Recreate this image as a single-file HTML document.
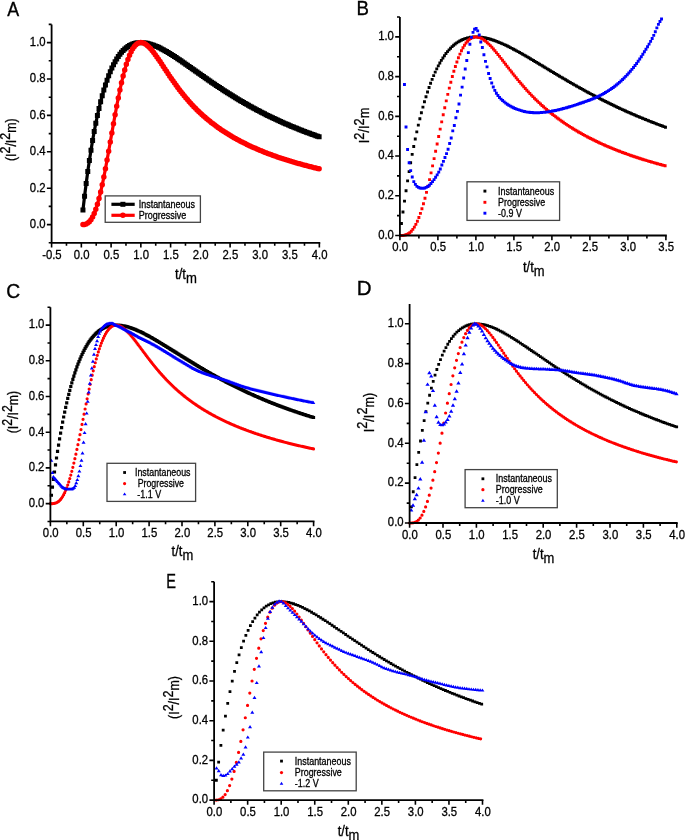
<!DOCTYPE html><html><head><meta charset="utf-8"><title>Chronoamperometric transients</title><style>html,body{margin:0;padding:0;background:#fff}body{width:685px;height:840px;overflow:hidden}svg{display:block;will-change:transform}text{fill:#000;stroke:#000;stroke-width:0.3px}</style></head><body>
<svg width="685" height="840" viewBox="0 0 685 840" font-family='"Liberation Sans", sans-serif'>
<rect width="685" height="840" fill="#fff"/>
<text transform="translate(7.2 16.4) scale(0.87 1)" font-size="20.5" style="stroke-width:0.35px">A</text>
<path d="M82.96 209.95L84.56 196.26L86.17 183.49L87.78 171.58L89.38 160.48L90.99 150.14L92.6 140.52L94.2 131.58L95.81 123.28L97.41 115.58L99.02 108.45L100.63 101.84L102.23 95.74L103.84 90.11L105.45 84.93L107.05 80.16L108.66 75.78L110.27 71.77L111.87 68.11L113.48 64.78L115.09 61.75L116.69 59.01L118.3 56.54L119.91 54.33L121.51 52.35L123.12 50.59L124.73 49.05L126.33 47.7L127.94 46.54L129.54 45.55L131.15 44.72L132.76 44.05L134.36 43.51L135.97 43.11L137.58 42.83L139.18 42.67L140.79 42.61L142.4 42.66L144 42.8L145.61 43.02L147.22 43.33L148.82 43.71L150.43 44.17L152.04 44.69L153.64 45.26L155.25 45.9L156.86 46.59L158.46 47.32L160.07 48.1L161.67 48.91L163.28 49.77L164.89 50.66L166.49 51.58L168.1 52.53L169.71 53.5L171.31 54.49L172.92 55.51L174.53 56.55L176.13 57.6L177.74 58.67L179.35 59.75L180.95 60.84L182.56 61.94L184.17 63.05L185.77 64.17L187.38 65.29L188.99 66.41L190.59 67.54L192.2 68.68L193.81 69.81L195.41 70.94L197.02 72.08L198.62 73.21L200.23 74.34L201.84 75.47L203.44 76.59L205.05 77.71L206.66 78.83L208.26 79.94L209.87 81.05L211.48 82.15L213.08 83.24L214.69 84.33L216.3 85.41L217.9 86.48L219.51 87.55L221.12 88.6L222.72 89.65L224.33 90.7L225.94 91.73L227.54 92.76L229.15 93.77L230.75 94.78L232.36 95.78L233.97 96.77L235.57 97.75L237.18 98.72L238.79 99.69L240.39 100.64L242 101.58L243.61 102.52L245.21 103.44L246.82 104.36L248.43 105.27L250.03 106.17L251.64 107.05L253.25 107.93L254.85 108.8L256.46 109.66L258.06 110.52L259.67 111.36L261.28 112.19L262.88 113.02L264.49 113.83L266.1 114.64L267.7 115.44L269.31 116.23L270.92 117.01L272.52 117.78L274.13 118.54L275.74 119.3L277.34 120.04L278.95 120.78L280.56 121.51L282.16 122.23L283.77 122.95L285.38 123.65L286.98 124.35L288.59 125.04L290.2 125.72L291.8 126.39L293.41 127.06L295.01 127.72L296.62 128.37L298.23 129.02L299.83 129.65L301.44 130.28L303.05 130.91L304.65 131.52L306.26 132.13L307.87 132.73L309.47 133.33L311.08 133.92L312.69 134.5L314.29 135.08L315.9 135.65L317.51 136.21L319.11 136.77" stroke="#000" stroke-width="3.2" fill="none" stroke-linejoin="round"/>
<path d="M80.46 207.45h5v5h-5zM82.06 193.76h5v5h-5zM83.67 180.99h5v5h-5zM85.28 169.08h5v5h-5zM86.88 157.98h5v5h-5zM88.49 147.64h5v5h-5zM90.1 138.02h5v5h-5zM91.7 129.08h5v5h-5zM93.31 120.78h5v5h-5zM94.91 113.08h5v5h-5zM96.52 105.95h5v5h-5zM98.13 99.34h5v5h-5zM99.73 93.24h5v5h-5zM101.34 87.61h5v5h-5zM102.95 82.43h5v5h-5zM104.55 77.66h5v5h-5zM106.16 73.28h5v5h-5zM107.77 69.27h5v5h-5zM109.37 65.61h5v5h-5zM110.98 62.28h5v5h-5zM112.59 59.25h5v5h-5zM114.19 56.51h5v5h-5zM115.8 54.04h5v5h-5zM117.41 51.83h5v5h-5zM119.01 49.85h5v5h-5zM120.62 48.09h5v5h-5zM122.23 46.55h5v5h-5zM123.83 45.2h5v5h-5zM125.44 44.04h5v5h-5zM127.04 43.05h5v5h-5zM128.65 42.22h5v5h-5zM130.26 41.55h5v5h-5zM131.86 41.01h5v5h-5zM133.47 40.61h5v5h-5zM135.08 40.33h5v5h-5zM136.68 40.17h5v5h-5zM138.29 40.11h5v5h-5zM139.9 40.16h5v5h-5zM141.5 40.3h5v5h-5zM143.11 40.52h5v5h-5zM144.72 40.83h5v5h-5zM146.32 41.21h5v5h-5zM147.93 41.67h5v5h-5zM149.54 42.19h5v5h-5zM151.14 42.76h5v5h-5zM152.75 43.4h5v5h-5zM154.36 44.09h5v5h-5zM155.96 44.82h5v5h-5zM157.57 45.6h5v5h-5zM159.17 46.41h5v5h-5zM160.78 47.27h5v5h-5zM162.39 48.16h5v5h-5zM163.99 49.08h5v5h-5zM165.6 50.03h5v5h-5zM167.21 51h5v5h-5zM168.81 51.99h5v5h-5zM170.42 53.01h5v5h-5zM172.03 54.05h5v5h-5zM173.63 55.1h5v5h-5zM175.24 56.17h5v5h-5zM176.85 57.25h5v5h-5zM178.45 58.34h5v5h-5zM180.06 59.44h5v5h-5zM181.67 60.55h5v5h-5zM183.27 61.67h5v5h-5zM184.88 62.79h5v5h-5zM186.49 63.91h5v5h-5zM188.09 65.04h5v5h-5zM189.7 66.18h5v5h-5zM191.31 67.31h5v5h-5zM192.91 68.44h5v5h-5zM194.52 69.58h5v5h-5zM196.12 70.71h5v5h-5zM197.73 71.84h5v5h-5zM199.34 72.97h5v5h-5zM200.94 74.09h5v5h-5zM202.55 75.21h5v5h-5zM204.16 76.33h5v5h-5zM205.76 77.44h5v5h-5zM207.37 78.55h5v5h-5zM208.98 79.65h5v5h-5zM210.58 80.74h5v5h-5zM212.19 81.83h5v5h-5zM213.8 82.91h5v5h-5zM215.4 83.98h5v5h-5zM217.01 85.05h5v5h-5zM218.62 86.1h5v5h-5zM220.22 87.15h5v5h-5zM221.83 88.2h5v5h-5zM223.44 89.23h5v5h-5zM225.04 90.26h5v5h-5zM226.65 91.27h5v5h-5zM228.25 92.28h5v5h-5zM229.86 93.28h5v5h-5zM231.47 94.27h5v5h-5zM233.07 95.25h5v5h-5zM234.68 96.22h5v5h-5zM236.29 97.19h5v5h-5zM237.89 98.14h5v5h-5zM239.5 99.08h5v5h-5zM241.11 100.02h5v5h-5zM242.71 100.94h5v5h-5zM244.32 101.86h5v5h-5zM245.93 102.77h5v5h-5zM247.53 103.67h5v5h-5zM249.14 104.55h5v5h-5zM250.75 105.43h5v5h-5zM252.35 106.3h5v5h-5zM253.96 107.16h5v5h-5zM255.56 108.02h5v5h-5zM257.17 108.86h5v5h-5zM258.78 109.69h5v5h-5zM260.38 110.52h5v5h-5zM261.99 111.33h5v5h-5zM263.6 112.14h5v5h-5zM265.2 112.94h5v5h-5zM266.81 113.73h5v5h-5zM268.42 114.51h5v5h-5zM270.02 115.28h5v5h-5zM271.63 116.04h5v5h-5zM273.24 116.8h5v5h-5zM274.84 117.54h5v5h-5zM276.45 118.28h5v5h-5zM278.06 119.01h5v5h-5zM279.66 119.73h5v5h-5zM281.27 120.45h5v5h-5zM282.88 121.15h5v5h-5zM284.48 121.85h5v5h-5zM286.09 122.54h5v5h-5zM287.7 123.22h5v5h-5zM289.3 123.89h5v5h-5zM290.91 124.56h5v5h-5zM292.51 125.22h5v5h-5zM294.12 125.87h5v5h-5zM295.73 126.52h5v5h-5zM297.33 127.15h5v5h-5zM298.94 127.78h5v5h-5zM300.55 128.41h5v5h-5zM302.15 129.02h5v5h-5zM303.76 129.63h5v5h-5zM305.37 130.23h5v5h-5zM306.97 130.83h5v5h-5zM308.58 131.42h5v5h-5zM310.19 132h5v5h-5zM311.79 132.58h5v5h-5zM313.4 133.15h5v5h-5zM315.01 133.71h5v5h-5zM316.61 134.27h5v5h-5z" fill="#000"/>
<path d="M82.96 224.58L84.56 224.41L86.17 223.96L87.78 223.11L89.38 221.73L90.99 219.73L92.6 217.03L94.2 213.58L95.81 209.35L97.41 204.34L99.02 198.55L100.63 192.03L102.23 184.84L103.84 177.06L105.45 168.78L107.05 160.11L108.66 151.16L110.27 142.04L111.87 132.88L113.48 123.78L115.09 114.86L116.69 106.21L118.3 97.93L119.91 90.1L121.51 82.78L123.12 76.03L124.73 69.88L126.33 64.37L127.94 59.51L129.54 55.3L131.15 51.74L132.76 48.81L134.36 46.49L135.97 44.74L137.58 43.54L139.18 42.84L140.79 42.6L142.4 42.79L144 43.36L145.61 44.27L147.22 45.47L148.82 46.94L150.43 48.62L152.04 50.49L153.64 52.52L155.25 54.67L156.86 56.92L158.46 59.24L160.07 61.62L161.67 64.04L163.28 66.47L164.89 68.91L166.49 71.34L168.1 73.76L169.71 76.15L171.31 78.51L172.92 80.83L174.53 83.11L176.13 85.34L177.74 87.53L179.35 89.67L180.95 91.75L182.56 93.79L184.17 95.78L185.77 97.71L187.38 99.6L188.99 101.43L190.59 103.22L192.2 104.96L193.81 106.65L195.41 108.3L197.02 109.91L198.62 111.47L200.23 113L201.84 114.48L203.44 115.93L205.05 117.33L206.66 118.71L208.26 120.05L209.87 121.35L211.48 122.63L213.08 123.87L214.69 125.08L216.3 126.27L217.9 127.42L219.51 128.55L221.12 129.66L222.72 130.74L224.33 131.79L225.94 132.82L227.54 133.83L229.15 134.82L230.75 135.78L232.36 136.73L233.97 137.65L235.57 138.56L237.18 139.44L238.79 140.31L240.39 141.16L242 142L243.61 142.82L245.21 143.62L246.82 144.4L248.43 145.18L250.03 145.93L251.64 146.67L253.25 147.4L254.85 148.12L256.46 148.82L258.06 149.51L259.67 150.18L261.28 150.85L262.88 151.5L264.49 152.14L266.1 152.77L267.7 153.39L269.31 154L270.92 154.6L272.52 155.19L274.13 155.77L275.74 156.33L277.34 156.89L278.95 157.44L280.56 157.99L282.16 158.52L283.77 159.04L285.38 159.56L286.98 160.07L288.59 160.57L290.2 161.06L291.8 161.55L293.41 162.02L295.01 162.49L296.62 162.96L298.23 163.41L299.83 163.86L301.44 164.31L303.05 164.74L304.65 165.17L306.26 165.6L307.87 166.02L309.47 166.43L311.08 166.84L312.69 167.24L314.29 167.63L315.9 168.02L317.51 168.41L319.11 168.79" stroke="#f00" stroke-width="3.2" fill="none" stroke-linejoin="round"/>
<path d="M80.21 224.58a2.75 2.75 0 1 0 5.5 0a2.75 2.75 0 1 0 -5.5 0zM81.81 224.41a2.75 2.75 0 1 0 5.5 0a2.75 2.75 0 1 0 -5.5 0zM83.42 223.96a2.75 2.75 0 1 0 5.5 0a2.75 2.75 0 1 0 -5.5 0zM85.03 223.11a2.75 2.75 0 1 0 5.5 0a2.75 2.75 0 1 0 -5.5 0zM86.63 221.73a2.75 2.75 0 1 0 5.5 0a2.75 2.75 0 1 0 -5.5 0zM88.24 219.73a2.75 2.75 0 1 0 5.5 0a2.75 2.75 0 1 0 -5.5 0zM89.85 217.03a2.75 2.75 0 1 0 5.5 0a2.75 2.75 0 1 0 -5.5 0zM91.45 213.58a2.75 2.75 0 1 0 5.5 0a2.75 2.75 0 1 0 -5.5 0zM93.06 209.35a2.75 2.75 0 1 0 5.5 0a2.75 2.75 0 1 0 -5.5 0zM94.66 204.34a2.75 2.75 0 1 0 5.5 0a2.75 2.75 0 1 0 -5.5 0zM96.27 198.55a2.75 2.75 0 1 0 5.5 0a2.75 2.75 0 1 0 -5.5 0zM97.88 192.03a2.75 2.75 0 1 0 5.5 0a2.75 2.75 0 1 0 -5.5 0zM99.48 184.84a2.75 2.75 0 1 0 5.5 0a2.75 2.75 0 1 0 -5.5 0zM101.09 177.06a2.75 2.75 0 1 0 5.5 0a2.75 2.75 0 1 0 -5.5 0zM102.7 168.78a2.75 2.75 0 1 0 5.5 0a2.75 2.75 0 1 0 -5.5 0zM104.3 160.11a2.75 2.75 0 1 0 5.5 0a2.75 2.75 0 1 0 -5.5 0zM105.91 151.16a2.75 2.75 0 1 0 5.5 0a2.75 2.75 0 1 0 -5.5 0zM107.52 142.04a2.75 2.75 0 1 0 5.5 0a2.75 2.75 0 1 0 -5.5 0zM109.12 132.88a2.75 2.75 0 1 0 5.5 0a2.75 2.75 0 1 0 -5.5 0zM110.73 123.78a2.75 2.75 0 1 0 5.5 0a2.75 2.75 0 1 0 -5.5 0zM112.34 114.86a2.75 2.75 0 1 0 5.5 0a2.75 2.75 0 1 0 -5.5 0zM113.94 106.21a2.75 2.75 0 1 0 5.5 0a2.75 2.75 0 1 0 -5.5 0zM115.55 97.93a2.75 2.75 0 1 0 5.5 0a2.75 2.75 0 1 0 -5.5 0zM117.16 90.1a2.75 2.75 0 1 0 5.5 0a2.75 2.75 0 1 0 -5.5 0zM118.76 82.78a2.75 2.75 0 1 0 5.5 0a2.75 2.75 0 1 0 -5.5 0zM120.37 76.03a2.75 2.75 0 1 0 5.5 0a2.75 2.75 0 1 0 -5.5 0zM121.98 69.88a2.75 2.75 0 1 0 5.5 0a2.75 2.75 0 1 0 -5.5 0zM123.58 64.37a2.75 2.75 0 1 0 5.5 0a2.75 2.75 0 1 0 -5.5 0zM125.19 59.51a2.75 2.75 0 1 0 5.5 0a2.75 2.75 0 1 0 -5.5 0zM126.79 55.3a2.75 2.75 0 1 0 5.5 0a2.75 2.75 0 1 0 -5.5 0zM128.4 51.74a2.75 2.75 0 1 0 5.5 0a2.75 2.75 0 1 0 -5.5 0zM130.01 48.81a2.75 2.75 0 1 0 5.5 0a2.75 2.75 0 1 0 -5.5 0zM131.61 46.49a2.75 2.75 0 1 0 5.5 0a2.75 2.75 0 1 0 -5.5 0zM133.22 44.74a2.75 2.75 0 1 0 5.5 0a2.75 2.75 0 1 0 -5.5 0zM134.83 43.54a2.75 2.75 0 1 0 5.5 0a2.75 2.75 0 1 0 -5.5 0zM136.43 42.84a2.75 2.75 0 1 0 5.5 0a2.75 2.75 0 1 0 -5.5 0zM138.04 42.6a2.75 2.75 0 1 0 5.5 0a2.75 2.75 0 1 0 -5.5 0zM139.65 42.79a2.75 2.75 0 1 0 5.5 0a2.75 2.75 0 1 0 -5.5 0zM141.25 43.36a2.75 2.75 0 1 0 5.5 0a2.75 2.75 0 1 0 -5.5 0zM142.86 44.27a2.75 2.75 0 1 0 5.5 0a2.75 2.75 0 1 0 -5.5 0zM144.47 45.47a2.75 2.75 0 1 0 5.5 0a2.75 2.75 0 1 0 -5.5 0zM146.07 46.94a2.75 2.75 0 1 0 5.5 0a2.75 2.75 0 1 0 -5.5 0zM147.68 48.62a2.75 2.75 0 1 0 5.5 0a2.75 2.75 0 1 0 -5.5 0zM149.29 50.49a2.75 2.75 0 1 0 5.5 0a2.75 2.75 0 1 0 -5.5 0zM150.89 52.52a2.75 2.75 0 1 0 5.5 0a2.75 2.75 0 1 0 -5.5 0zM152.5 54.67a2.75 2.75 0 1 0 5.5 0a2.75 2.75 0 1 0 -5.5 0zM154.11 56.92a2.75 2.75 0 1 0 5.5 0a2.75 2.75 0 1 0 -5.5 0zM155.71 59.24a2.75 2.75 0 1 0 5.5 0a2.75 2.75 0 1 0 -5.5 0zM157.32 61.62a2.75 2.75 0 1 0 5.5 0a2.75 2.75 0 1 0 -5.5 0zM158.92 64.04a2.75 2.75 0 1 0 5.5 0a2.75 2.75 0 1 0 -5.5 0zM160.53 66.47a2.75 2.75 0 1 0 5.5 0a2.75 2.75 0 1 0 -5.5 0zM162.14 68.91a2.75 2.75 0 1 0 5.5 0a2.75 2.75 0 1 0 -5.5 0zM163.74 71.34a2.75 2.75 0 1 0 5.5 0a2.75 2.75 0 1 0 -5.5 0zM165.35 73.76a2.75 2.75 0 1 0 5.5 0a2.75 2.75 0 1 0 -5.5 0zM166.96 76.15a2.75 2.75 0 1 0 5.5 0a2.75 2.75 0 1 0 -5.5 0zM168.56 78.51a2.75 2.75 0 1 0 5.5 0a2.75 2.75 0 1 0 -5.5 0zM170.17 80.83a2.75 2.75 0 1 0 5.5 0a2.75 2.75 0 1 0 -5.5 0zM171.78 83.11a2.75 2.75 0 1 0 5.5 0a2.75 2.75 0 1 0 -5.5 0zM173.38 85.34a2.75 2.75 0 1 0 5.5 0a2.75 2.75 0 1 0 -5.5 0zM174.99 87.53a2.75 2.75 0 1 0 5.5 0a2.75 2.75 0 1 0 -5.5 0zM176.6 89.67a2.75 2.75 0 1 0 5.5 0a2.75 2.75 0 1 0 -5.5 0zM178.2 91.75a2.75 2.75 0 1 0 5.5 0a2.75 2.75 0 1 0 -5.5 0zM179.81 93.79a2.75 2.75 0 1 0 5.5 0a2.75 2.75 0 1 0 -5.5 0zM181.42 95.78a2.75 2.75 0 1 0 5.5 0a2.75 2.75 0 1 0 -5.5 0zM183.02 97.71a2.75 2.75 0 1 0 5.5 0a2.75 2.75 0 1 0 -5.5 0zM184.63 99.6a2.75 2.75 0 1 0 5.5 0a2.75 2.75 0 1 0 -5.5 0zM186.24 101.43a2.75 2.75 0 1 0 5.5 0a2.75 2.75 0 1 0 -5.5 0zM187.84 103.22a2.75 2.75 0 1 0 5.5 0a2.75 2.75 0 1 0 -5.5 0zM189.45 104.96a2.75 2.75 0 1 0 5.5 0a2.75 2.75 0 1 0 -5.5 0zM191.06 106.65a2.75 2.75 0 1 0 5.5 0a2.75 2.75 0 1 0 -5.5 0zM192.66 108.3a2.75 2.75 0 1 0 5.5 0a2.75 2.75 0 1 0 -5.5 0zM194.27 109.91a2.75 2.75 0 1 0 5.5 0a2.75 2.75 0 1 0 -5.5 0zM195.87 111.47a2.75 2.75 0 1 0 5.5 0a2.75 2.75 0 1 0 -5.5 0zM197.48 113a2.75 2.75 0 1 0 5.5 0a2.75 2.75 0 1 0 -5.5 0zM199.09 114.48a2.75 2.75 0 1 0 5.5 0a2.75 2.75 0 1 0 -5.5 0zM200.69 115.93a2.75 2.75 0 1 0 5.5 0a2.75 2.75 0 1 0 -5.5 0zM202.3 117.33a2.75 2.75 0 1 0 5.5 0a2.75 2.75 0 1 0 -5.5 0zM203.91 118.71a2.75 2.75 0 1 0 5.5 0a2.75 2.75 0 1 0 -5.5 0zM205.51 120.05a2.75 2.75 0 1 0 5.5 0a2.75 2.75 0 1 0 -5.5 0zM207.12 121.35a2.75 2.75 0 1 0 5.5 0a2.75 2.75 0 1 0 -5.5 0zM208.73 122.63a2.75 2.75 0 1 0 5.5 0a2.75 2.75 0 1 0 -5.5 0zM210.33 123.87a2.75 2.75 0 1 0 5.5 0a2.75 2.75 0 1 0 -5.5 0zM211.94 125.08a2.75 2.75 0 1 0 5.5 0a2.75 2.75 0 1 0 -5.5 0zM213.55 126.27a2.75 2.75 0 1 0 5.5 0a2.75 2.75 0 1 0 -5.5 0zM215.15 127.42a2.75 2.75 0 1 0 5.5 0a2.75 2.75 0 1 0 -5.5 0zM216.76 128.55a2.75 2.75 0 1 0 5.5 0a2.75 2.75 0 1 0 -5.5 0zM218.37 129.66a2.75 2.75 0 1 0 5.5 0a2.75 2.75 0 1 0 -5.5 0zM219.97 130.74a2.75 2.75 0 1 0 5.5 0a2.75 2.75 0 1 0 -5.5 0zM221.58 131.79a2.75 2.75 0 1 0 5.5 0a2.75 2.75 0 1 0 -5.5 0zM223.19 132.82a2.75 2.75 0 1 0 5.5 0a2.75 2.75 0 1 0 -5.5 0zM224.79 133.83a2.75 2.75 0 1 0 5.5 0a2.75 2.75 0 1 0 -5.5 0zM226.4 134.82a2.75 2.75 0 1 0 5.5 0a2.75 2.75 0 1 0 -5.5 0zM228 135.78a2.75 2.75 0 1 0 5.5 0a2.75 2.75 0 1 0 -5.5 0zM229.61 136.73a2.75 2.75 0 1 0 5.5 0a2.75 2.75 0 1 0 -5.5 0zM231.22 137.65a2.75 2.75 0 1 0 5.5 0a2.75 2.75 0 1 0 -5.5 0zM232.82 138.56a2.75 2.75 0 1 0 5.5 0a2.75 2.75 0 1 0 -5.5 0zM234.43 139.44a2.75 2.75 0 1 0 5.5 0a2.75 2.75 0 1 0 -5.5 0zM236.04 140.31a2.75 2.75 0 1 0 5.5 0a2.75 2.75 0 1 0 -5.5 0zM237.64 141.16a2.75 2.75 0 1 0 5.5 0a2.75 2.75 0 1 0 -5.5 0zM239.25 142a2.75 2.75 0 1 0 5.5 0a2.75 2.75 0 1 0 -5.5 0zM240.86 142.82a2.75 2.75 0 1 0 5.5 0a2.75 2.75 0 1 0 -5.5 0zM242.46 143.62a2.75 2.75 0 1 0 5.5 0a2.75 2.75 0 1 0 -5.5 0zM244.07 144.4a2.75 2.75 0 1 0 5.5 0a2.75 2.75 0 1 0 -5.5 0zM245.68 145.18a2.75 2.75 0 1 0 5.5 0a2.75 2.75 0 1 0 -5.5 0zM247.28 145.93a2.75 2.75 0 1 0 5.5 0a2.75 2.75 0 1 0 -5.5 0zM248.89 146.67a2.75 2.75 0 1 0 5.5 0a2.75 2.75 0 1 0 -5.5 0zM250.5 147.4a2.75 2.75 0 1 0 5.5 0a2.75 2.75 0 1 0 -5.5 0zM252.1 148.12a2.75 2.75 0 1 0 5.5 0a2.75 2.75 0 1 0 -5.5 0zM253.71 148.82a2.75 2.75 0 1 0 5.5 0a2.75 2.75 0 1 0 -5.5 0zM255.31 149.51a2.75 2.75 0 1 0 5.5 0a2.75 2.75 0 1 0 -5.5 0zM256.92 150.18a2.75 2.75 0 1 0 5.5 0a2.75 2.75 0 1 0 -5.5 0zM258.53 150.85a2.75 2.75 0 1 0 5.5 0a2.75 2.75 0 1 0 -5.5 0zM260.13 151.5a2.75 2.75 0 1 0 5.5 0a2.75 2.75 0 1 0 -5.5 0zM261.74 152.14a2.75 2.75 0 1 0 5.5 0a2.75 2.75 0 1 0 -5.5 0zM263.35 152.77a2.75 2.75 0 1 0 5.5 0a2.75 2.75 0 1 0 -5.5 0zM264.95 153.39a2.75 2.75 0 1 0 5.5 0a2.75 2.75 0 1 0 -5.5 0zM266.56 154a2.75 2.75 0 1 0 5.5 0a2.75 2.75 0 1 0 -5.5 0zM268.17 154.6a2.75 2.75 0 1 0 5.5 0a2.75 2.75 0 1 0 -5.5 0zM269.77 155.19a2.75 2.75 0 1 0 5.5 0a2.75 2.75 0 1 0 -5.5 0zM271.38 155.77a2.75 2.75 0 1 0 5.5 0a2.75 2.75 0 1 0 -5.5 0zM272.99 156.33a2.75 2.75 0 1 0 5.5 0a2.75 2.75 0 1 0 -5.5 0zM274.59 156.89a2.75 2.75 0 1 0 5.5 0a2.75 2.75 0 1 0 -5.5 0zM276.2 157.44a2.75 2.75 0 1 0 5.5 0a2.75 2.75 0 1 0 -5.5 0zM277.81 157.99a2.75 2.75 0 1 0 5.5 0a2.75 2.75 0 1 0 -5.5 0zM279.41 158.52a2.75 2.75 0 1 0 5.5 0a2.75 2.75 0 1 0 -5.5 0zM281.02 159.04a2.75 2.75 0 1 0 5.5 0a2.75 2.75 0 1 0 -5.5 0zM282.63 159.56a2.75 2.75 0 1 0 5.5 0a2.75 2.75 0 1 0 -5.5 0zM284.23 160.07a2.75 2.75 0 1 0 5.5 0a2.75 2.75 0 1 0 -5.5 0zM285.84 160.57a2.75 2.75 0 1 0 5.5 0a2.75 2.75 0 1 0 -5.5 0zM287.45 161.06a2.75 2.75 0 1 0 5.5 0a2.75 2.75 0 1 0 -5.5 0zM289.05 161.55a2.75 2.75 0 1 0 5.5 0a2.75 2.75 0 1 0 -5.5 0zM290.66 162.02a2.75 2.75 0 1 0 5.5 0a2.75 2.75 0 1 0 -5.5 0zM292.26 162.49a2.75 2.75 0 1 0 5.5 0a2.75 2.75 0 1 0 -5.5 0zM293.87 162.96a2.75 2.75 0 1 0 5.5 0a2.75 2.75 0 1 0 -5.5 0zM295.48 163.41a2.75 2.75 0 1 0 5.5 0a2.75 2.75 0 1 0 -5.5 0zM297.08 163.86a2.75 2.75 0 1 0 5.5 0a2.75 2.75 0 1 0 -5.5 0zM298.69 164.31a2.75 2.75 0 1 0 5.5 0a2.75 2.75 0 1 0 -5.5 0zM300.3 164.74a2.75 2.75 0 1 0 5.5 0a2.75 2.75 0 1 0 -5.5 0zM301.9 165.17a2.75 2.75 0 1 0 5.5 0a2.75 2.75 0 1 0 -5.5 0zM303.51 165.6a2.75 2.75 0 1 0 5.5 0a2.75 2.75 0 1 0 -5.5 0zM305.12 166.02a2.75 2.75 0 1 0 5.5 0a2.75 2.75 0 1 0 -5.5 0zM306.72 166.43a2.75 2.75 0 1 0 5.5 0a2.75 2.75 0 1 0 -5.5 0zM308.33 166.84a2.75 2.75 0 1 0 5.5 0a2.75 2.75 0 1 0 -5.5 0zM309.94 167.24a2.75 2.75 0 1 0 5.5 0a2.75 2.75 0 1 0 -5.5 0zM311.54 167.63a2.75 2.75 0 1 0 5.5 0a2.75 2.75 0 1 0 -5.5 0zM313.15 168.02a2.75 2.75 0 1 0 5.5 0a2.75 2.75 0 1 0 -5.5 0zM314.76 168.41a2.75 2.75 0 1 0 5.5 0a2.75 2.75 0 1 0 -5.5 0zM316.36 168.79a2.75 2.75 0 1 0 5.5 0a2.75 2.75 0 1 0 -5.5 0z" fill="#f00"/>
<path d="M51.6 243.7V24.4M50.7 242.8H320.25" stroke="#000" stroke-width="1.8" fill="none"/>
<path d="M51.6 242.8H48.7M51.6 224.6H46.9M51.6 206.4H48.7M51.6 188.2H46.9M51.6 170H48.7M51.6 151.8H46.9M51.6 133.6H48.7M51.6 115.4H46.9M51.6 97.2H48.7M51.6 79H46.9M51.6 60.8H48.7M51.6 42.6H46.9M51.6 24.4H48.7M51.6 242.8V247.5M66.47 242.8V245.7M81.35 242.8V247.5M96.22 242.8V245.7M111.1 242.8V247.5M125.97 242.8V245.7M140.85 242.8V247.5M155.72 242.8V245.7M170.6 242.8V247.5M185.47 242.8V245.7M200.35 242.8V247.5M215.22 242.8V245.7M230.1 242.8V247.5M244.97 242.8V245.7M259.85 242.8V247.5M274.73 242.8V245.7M289.6 242.8V247.5M304.48 242.8V245.7M319.35 242.8V247.5" stroke="#000" stroke-width="1.6" fill="none"/>
<g font-size="12.2" fill="#000">
<text transform="translate(45.6 227.9) scale(0.93 1)" text-anchor="end">0.0</text>
<text transform="translate(45.6 191.5) scale(0.93 1)" text-anchor="end">0.2</text>
<text transform="translate(45.6 155.1) scale(0.93 1)" text-anchor="end">0.4</text>
<text transform="translate(45.6 118.7) scale(0.93 1)" text-anchor="end">0.6</text>
<text transform="translate(45.6 82.3) scale(0.93 1)" text-anchor="end">0.8</text>
<text transform="translate(45.6 45.9) scale(0.93 1)" text-anchor="end">1.0</text>
<text transform="translate(51.9 258.5) scale(0.93 1)" text-anchor="middle">-0.5</text>
<text transform="translate(81.65 258.5) scale(0.93 1)" text-anchor="middle">0.0</text>
<text transform="translate(111.4 258.5) scale(0.93 1)" text-anchor="middle">0.5</text>
<text transform="translate(141.15 258.5) scale(0.93 1)" text-anchor="middle">1.0</text>
<text transform="translate(170.9 258.5) scale(0.93 1)" text-anchor="middle">1.5</text>
<text transform="translate(200.65 258.5) scale(0.93 1)" text-anchor="middle">2.0</text>
<text transform="translate(230.4 258.5) scale(0.93 1)" text-anchor="middle">2.5</text>
<text transform="translate(260.15 258.5) scale(0.93 1)" text-anchor="middle">3.0</text>
<text transform="translate(289.9 258.5) scale(0.93 1)" text-anchor="middle">3.5</text>
<text transform="translate(319.65 258.5) scale(0.93 1)" text-anchor="middle">4.0</text>
</g>
<rect x="105.2" y="195.9" width="95.2" height="26.4" fill="#fff" stroke="#444" stroke-width="1.3"/>
<path d="M111.4 204.3H134.7" stroke="#000" stroke-width="3.2"/>
<path d="M120.4 201.8h5v5h-5z" fill="#000"/>
<path d="M111.4 215.3H134.7" stroke="#f00" stroke-width="3.2"/>
<path d="M120.15 215.3a2.75 2.75 0 1 0 5.5 0a2.75 2.75 0 1 0 -5.5 0z" fill="#f00"/>
<text x="138.7" y="207.9" font-size="10" textLength="56.3" lengthAdjust="spacingAndGlyphs">Instantaneous</text>
<text x="138.7" y="218.9" font-size="10" textLength="47.5" lengthAdjust="spacingAndGlyphs">Progressive</text>
<text transform="translate(15.8 139.7) rotate(-90)" text-anchor="middle" font-size="14" textLength="42.8" lengthAdjust="spacingAndGlyphs">(I<tspan dy="-6">2</tspan><tspan dy="6">/I</tspan><tspan dy="-6">2</tspan><tspan dy="6">m</tspan>)</text>
<text x="175" y="278.9" font-size="14.2" textLength="21.8" lengthAdjust="spacingAndGlyphs">t/t<tspan dy="4.2">m</tspan></text>
<text transform="translate(356.5 14.6) scale(0.91 1)" font-size="20.5" style="stroke-width:0.35px">B</text>
<path d="M399.99 221.98h2.9v2.9h-2.9zM401.52 210.52h2.9v2.9h-2.9zM403.06 199.63h2.9v2.9h-2.9zM404.59 189.29h2.9v2.9h-2.9zM406.13 179.47h2.9v2.9h-2.9zM407.66 170.16h2.9v2.9h-2.9zM409.2 161.33h2.9v2.9h-2.9zM410.73 152.96h2.9v2.9h-2.9zM412.27 145.03h2.9v2.9h-2.9zM413.8 137.52h2.9v2.9h-2.9zM415.34 130.41h2.9v2.9h-2.9zM416.87 123.69h2.9v2.9h-2.9zM418.41 117.33h2.9v2.9h-2.9zM419.94 111.32h2.9v2.9h-2.9zM421.48 105.65h2.9v2.9h-2.9zM423.01 100.3h2.9v2.9h-2.9zM424.55 95.26h2.9v2.9h-2.9zM426.08 90.51h2.9v2.9h-2.9zM427.62 86.04h2.9v2.9h-2.9zM429.15 81.84h2.9v2.9h-2.9zM430.69 77.89h2.9v2.9h-2.9zM432.22 74.19h2.9v2.9h-2.9zM433.76 70.72h2.9v2.9h-2.9zM435.29 67.47h2.9v2.9h-2.9zM436.83 64.43h2.9v2.9h-2.9zM438.37 61.6h2.9v2.9h-2.9zM439.9 58.96h2.9v2.9h-2.9zM441.44 56.51h2.9v2.9h-2.9zM442.97 54.23h2.9v2.9h-2.9zM444.51 52.12h2.9v2.9h-2.9zM446.04 50.18h2.9v2.9h-2.9zM447.58 48.38h2.9v2.9h-2.9zM449.11 46.73h2.9v2.9h-2.9zM450.65 45.22h2.9v2.9h-2.9zM452.18 43.85h2.9v2.9h-2.9zM453.72 42.59h2.9v2.9h-2.9zM455.25 41.47h2.9v2.9h-2.9zM456.79 40.45h2.9v2.9h-2.9zM458.32 39.55h2.9v2.9h-2.9zM459.86 38.74h2.9v2.9h-2.9zM461.39 38.04h2.9v2.9h-2.9zM462.93 37.44h2.9v2.9h-2.9zM464.46 36.92h2.9v2.9h-2.9zM466 36.49h2.9v2.9h-2.9zM467.53 36.14h2.9v2.9h-2.9zM469.07 35.86h2.9v2.9h-2.9zM470.6 35.66h2.9v2.9h-2.9zM472.14 35.53h2.9v2.9h-2.9zM473.67 35.47h2.9v2.9h-2.9zM475.21 35.47h2.9v2.9h-2.9zM476.75 35.53h2.9v2.9h-2.9zM478.28 35.64h2.9v2.9h-2.9zM479.82 35.81h2.9v2.9h-2.9zM481.35 36.03h2.9v2.9h-2.9zM482.89 36.3h2.9v2.9h-2.9zM484.42 36.62h2.9v2.9h-2.9zM485.96 36.98h2.9v2.9h-2.9zM487.49 37.37h2.9v2.9h-2.9zM489.03 37.81h2.9v2.9h-2.9zM490.56 38.28h2.9v2.9h-2.9zM492.1 38.79h2.9v2.9h-2.9zM493.63 39.33h2.9v2.9h-2.9zM495.17 39.9h2.9v2.9h-2.9zM496.7 40.5h2.9v2.9h-2.9zM498.24 41.13h2.9v2.9h-2.9zM499.77 41.78h2.9v2.9h-2.9zM501.31 42.46h2.9v2.9h-2.9zM502.84 43.15h2.9v2.9h-2.9zM504.38 43.87h2.9v2.9h-2.9zM505.91 44.61h2.9v2.9h-2.9zM507.45 45.37h2.9v2.9h-2.9zM508.98 46.14h2.9v2.9h-2.9zM510.52 46.93h2.9v2.9h-2.9zM512.05 47.73h2.9v2.9h-2.9zM513.59 48.55h2.9v2.9h-2.9zM515.13 49.38h2.9v2.9h-2.9zM516.66 50.22h2.9v2.9h-2.9zM518.2 51.08h2.9v2.9h-2.9zM519.73 51.94h2.9v2.9h-2.9zM521.27 52.81h2.9v2.9h-2.9zM522.8 53.69h2.9v2.9h-2.9zM524.34 54.57h2.9v2.9h-2.9zM525.87 55.47h2.9v2.9h-2.9zM527.41 56.37h2.9v2.9h-2.9zM528.94 57.27h2.9v2.9h-2.9zM530.48 58.18h2.9v2.9h-2.9zM532.01 59.09h2.9v2.9h-2.9zM533.55 60.01h2.9v2.9h-2.9zM535.08 60.93h2.9v2.9h-2.9zM536.62 61.85h2.9v2.9h-2.9zM538.15 62.77h2.9v2.9h-2.9zM539.69 63.69h2.9v2.9h-2.9zM541.22 64.62h2.9v2.9h-2.9zM542.76 65.54h2.9v2.9h-2.9zM544.29 66.47h2.9v2.9h-2.9zM545.83 67.4h2.9v2.9h-2.9zM547.36 68.32h2.9v2.9h-2.9zM548.9 69.24h2.9v2.9h-2.9zM550.43 70.17h2.9v2.9h-2.9zM551.97 71.09h2.9v2.9h-2.9zM553.51 72.01h2.9v2.9h-2.9zM555.04 72.92h2.9v2.9h-2.9zM556.58 73.84h2.9v2.9h-2.9zM558.11 74.75h2.9v2.9h-2.9zM559.65 75.66h2.9v2.9h-2.9zM561.18 76.56h2.9v2.9h-2.9zM562.72 77.46h2.9v2.9h-2.9zM564.25 78.36h2.9v2.9h-2.9zM565.79 79.26h2.9v2.9h-2.9zM567.32 80.15h2.9v2.9h-2.9zM568.86 81.04h2.9v2.9h-2.9zM570.39 81.92h2.9v2.9h-2.9zM571.93 82.8h2.9v2.9h-2.9zM573.46 83.67h2.9v2.9h-2.9zM575 84.54h2.9v2.9h-2.9zM576.53 85.4h2.9v2.9h-2.9zM578.07 86.26h2.9v2.9h-2.9zM579.6 87.12h2.9v2.9h-2.9zM581.14 87.97h2.9v2.9h-2.9zM582.67 88.81h2.9v2.9h-2.9zM584.21 89.65h2.9v2.9h-2.9zM585.74 90.49h2.9v2.9h-2.9zM587.28 91.31h2.9v2.9h-2.9zM588.81 92.14h2.9v2.9h-2.9zM590.35 92.96h2.9v2.9h-2.9zM591.89 93.77h2.9v2.9h-2.9zM593.42 94.58h2.9v2.9h-2.9zM594.96 95.38h2.9v2.9h-2.9zM596.49 96.17h2.9v2.9h-2.9zM598.03 96.97h2.9v2.9h-2.9zM599.56 97.75h2.9v2.9h-2.9zM601.1 98.53h2.9v2.9h-2.9zM602.63 99.3h2.9v2.9h-2.9zM604.17 100.07h2.9v2.9h-2.9zM605.7 100.83h2.9v2.9h-2.9zM607.24 101.59h2.9v2.9h-2.9zM608.77 102.34h2.9v2.9h-2.9zM610.31 103.09h2.9v2.9h-2.9zM611.84 103.83h2.9v2.9h-2.9zM613.38 104.56h2.9v2.9h-2.9zM614.91 105.29h2.9v2.9h-2.9zM616.45 106.01h2.9v2.9h-2.9zM617.98 106.73h2.9v2.9h-2.9zM619.52 107.44h2.9v2.9h-2.9zM621.05 108.15h2.9v2.9h-2.9zM622.59 108.85h2.9v2.9h-2.9zM624.12 109.54h2.9v2.9h-2.9zM625.66 110.23h2.9v2.9h-2.9zM627.19 110.91h2.9v2.9h-2.9zM628.73 111.59h2.9v2.9h-2.9zM630.27 112.26h2.9v2.9h-2.9zM631.8 112.93h2.9v2.9h-2.9zM633.34 113.59h2.9v2.9h-2.9zM634.87 114.25h2.9v2.9h-2.9zM636.41 114.9h2.9v2.9h-2.9zM637.94 115.54h2.9v2.9h-2.9zM639.48 116.18h2.9v2.9h-2.9zM641.01 116.82h2.9v2.9h-2.9zM642.55 117.45h2.9v2.9h-2.9zM644.08 118.07h2.9v2.9h-2.9zM645.62 118.69h2.9v2.9h-2.9zM647.15 119.31h2.9v2.9h-2.9zM648.69 119.91h2.9v2.9h-2.9zM650.22 120.52h2.9v2.9h-2.9zM651.76 121.12h2.9v2.9h-2.9zM653.29 121.71h2.9v2.9h-2.9zM654.83 122.3h2.9v2.9h-2.9zM656.36 122.88h2.9v2.9h-2.9zM657.9 123.46h2.9v2.9h-2.9zM659.43 124.03h2.9v2.9h-2.9zM660.97 124.6h2.9v2.9h-2.9zM662.5 125.17h2.9v2.9h-2.9zM664.04 125.73h2.9v2.9h-2.9z" fill="#000"/>
<path d="M399.21 234.05h2.9v2.9h-2.9zM400.73 234.01h2.9v2.9h-2.9zM402.25 233.88h2.9v2.9h-2.9zM403.77 233.6h2.9v2.9h-2.9zM405.29 233.1h2.9v2.9h-2.9zM406.81 232.33h2.9v2.9h-2.9zM408.33 231.24h2.9v2.9h-2.9zM409.85 229.79h2.9v2.9h-2.9zM411.37 227.95h2.9v2.9h-2.9zM412.89 225.67h2.9v2.9h-2.9zM414.41 222.94h2.9v2.9h-2.9zM415.93 219.74h2.9v2.9h-2.9zM417.45 216.08h2.9v2.9h-2.9zM418.97 211.94h2.9v2.9h-2.9zM420.49 207.34h2.9v2.9h-2.9zM422.01 202.29h2.9v2.9h-2.9zM423.53 196.83h2.9v2.9h-2.9zM425.05 190.97h2.9v2.9h-2.9zM426.57 184.75h2.9v2.9h-2.9zM428.09 178.22h2.9v2.9h-2.9zM429.61 171.42h2.9v2.9h-2.9zM431.13 164.39h2.9v2.9h-2.9zM432.65 157.19h2.9v2.9h-2.9zM434.17 149.87h2.9v2.9h-2.9zM435.69 142.48h2.9v2.9h-2.9zM437.21 135.07h2.9v2.9h-2.9zM438.73 127.69h2.9v2.9h-2.9zM440.25 120.4h2.9v2.9h-2.9zM441.77 113.23h2.9v2.9h-2.9zM443.29 106.24h2.9v2.9h-2.9zM444.81 99.45h2.9v2.9h-2.9zM446.33 92.92h2.9v2.9h-2.9zM447.85 86.67h2.9v2.9h-2.9zM449.37 80.73h2.9v2.9h-2.9zM450.89 75.12h2.9v2.9h-2.9zM452.41 69.87h2.9v2.9h-2.9zM453.93 64.99h2.9v2.9h-2.9zM455.45 60.49h2.9v2.9h-2.9zM456.97 56.37h2.9v2.9h-2.9zM458.49 52.65h2.9v2.9h-2.9zM460.01 49.31h2.9v2.9h-2.9zM461.53 46.37h2.9v2.9h-2.9zM463.05 43.8h2.9v2.9h-2.9zM464.57 41.61h2.9v2.9h-2.9zM466.09 39.77h2.9v2.9h-2.9zM467.61 38.28h2.9v2.9h-2.9zM469.13 37.13h2.9v2.9h-2.9zM470.65 36.29h2.9v2.9h-2.9zM472.17 35.75h2.9v2.9h-2.9zM473.69 35.48h2.9v2.9h-2.9zM475.21 35.48h2.9v2.9h-2.9zM476.73 35.73h2.9v2.9h-2.9zM478.25 36.19h2.9v2.9h-2.9zM479.77 36.86h2.9v2.9h-2.9zM481.29 37.72h2.9v2.9h-2.9zM482.81 38.75h2.9v2.9h-2.9zM484.33 39.93h2.9v2.9h-2.9zM485.85 41.24h2.9v2.9h-2.9zM487.37 42.68h2.9v2.9h-2.9zM488.89 44.22h2.9v2.9h-2.9zM490.41 45.85h2.9v2.9h-2.9zM491.93 47.56h2.9v2.9h-2.9zM493.45 49.34h2.9v2.9h-2.9zM494.97 51.17h2.9v2.9h-2.9zM496.49 53.04h2.9v2.9h-2.9zM498.01 54.95h2.9v2.9h-2.9zM499.53 56.89h2.9v2.9h-2.9zM501.05 58.84h2.9v2.9h-2.9zM502.57 60.81h2.9v2.9h-2.9zM504.09 62.78h2.9v2.9h-2.9zM505.61 64.75h2.9v2.9h-2.9zM507.13 66.72h2.9v2.9h-2.9zM508.65 68.67h2.9v2.9h-2.9zM510.17 70.61h2.9v2.9h-2.9zM511.69 72.54h2.9v2.9h-2.9zM513.21 74.44h2.9v2.9h-2.9zM514.73 76.33h2.9v2.9h-2.9zM516.25 78.18h2.9v2.9h-2.9zM517.77 80.02h2.9v2.9h-2.9zM519.29 81.82h2.9v2.9h-2.9zM520.81 83.6h2.9v2.9h-2.9zM522.33 85.35h2.9v2.9h-2.9zM523.85 87.07h2.9v2.9h-2.9zM525.37 88.75h2.9v2.9h-2.9zM526.89 90.41h2.9v2.9h-2.9zM528.41 92.04h2.9v2.9h-2.9zM529.93 93.64h2.9v2.9h-2.9zM531.45 95.2h2.9v2.9h-2.9zM532.97 96.74h2.9v2.9h-2.9zM534.49 98.24h2.9v2.9h-2.9zM536.01 99.72h2.9v2.9h-2.9zM537.53 101.17h2.9v2.9h-2.9zM539.05 102.59h2.9v2.9h-2.9zM540.57 103.98h2.9v2.9h-2.9zM542.09 105.35h2.9v2.9h-2.9zM543.61 106.68h2.9v2.9h-2.9zM545.13 108h2.9v2.9h-2.9zM546.65 109.28h2.9v2.9h-2.9zM548.17 110.54h2.9v2.9h-2.9zM549.69 111.78h2.9v2.9h-2.9zM551.21 112.99h2.9v2.9h-2.9zM552.73 114.18h2.9v2.9h-2.9zM554.25 115.35h2.9v2.9h-2.9zM555.77 116.49h2.9v2.9h-2.9zM557.29 117.62h2.9v2.9h-2.9zM558.81 118.72h2.9v2.9h-2.9zM560.33 119.8h2.9v2.9h-2.9zM561.85 120.86h2.9v2.9h-2.9zM563.37 121.9h2.9v2.9h-2.9zM564.89 122.93h2.9v2.9h-2.9zM566.41 123.93h2.9v2.9h-2.9zM567.93 124.92h2.9v2.9h-2.9zM569.45 125.89h2.9v2.9h-2.9zM570.97 126.84h2.9v2.9h-2.9zM572.49 127.78h2.9v2.9h-2.9zM574.01 128.7h2.9v2.9h-2.9zM575.53 129.6h2.9v2.9h-2.9zM577.05 130.49h2.9v2.9h-2.9zM578.57 131.36h2.9v2.9h-2.9zM580.09 132.22h2.9v2.9h-2.9zM581.61 133.07h2.9v2.9h-2.9zM583.13 133.9h2.9v2.9h-2.9zM584.65 134.72h2.9v2.9h-2.9zM586.17 135.52h2.9v2.9h-2.9zM587.69 136.31h2.9v2.9h-2.9zM589.21 137.09h2.9v2.9h-2.9zM590.73 137.86h2.9v2.9h-2.9zM592.25 138.61h2.9v2.9h-2.9zM593.77 139.36h2.9v2.9h-2.9zM595.29 140.09h2.9v2.9h-2.9zM596.81 140.81h2.9v2.9h-2.9zM598.33 141.52h2.9v2.9h-2.9zM599.85 142.21h2.9v2.9h-2.9zM601.37 142.9h2.9v2.9h-2.9zM602.89 143.58h2.9v2.9h-2.9zM604.41 144.25h2.9v2.9h-2.9zM605.93 144.91h2.9v2.9h-2.9zM607.45 145.55h2.9v2.9h-2.9zM608.97 146.19h2.9v2.9h-2.9zM610.49 146.82h2.9v2.9h-2.9zM612.01 147.44h2.9v2.9h-2.9zM613.53 148.06h2.9v2.9h-2.9zM615.05 148.66h2.9v2.9h-2.9zM616.57 149.25h2.9v2.9h-2.9zM618.09 149.84h2.9v2.9h-2.9zM619.61 150.42h2.9v2.9h-2.9zM621.13 150.99h2.9v2.9h-2.9zM622.65 151.55h2.9v2.9h-2.9zM624.17 152.11h2.9v2.9h-2.9zM625.69 152.66h2.9v2.9h-2.9zM627.21 153.2h2.9v2.9h-2.9zM628.73 153.73h2.9v2.9h-2.9zM630.25 154.26h2.9v2.9h-2.9zM631.77 154.78h2.9v2.9h-2.9zM633.29 155.29h2.9v2.9h-2.9zM634.81 155.8h2.9v2.9h-2.9zM636.33 156.3h2.9v2.9h-2.9zM637.85 156.79h2.9v2.9h-2.9zM639.37 157.28h2.9v2.9h-2.9zM640.89 157.76h2.9v2.9h-2.9zM642.41 158.24h2.9v2.9h-2.9zM643.93 158.7h2.9v2.9h-2.9zM645.45 159.17h2.9v2.9h-2.9zM646.97 159.63h2.9v2.9h-2.9zM648.49 160.08h2.9v2.9h-2.9zM650.01 160.53h2.9v2.9h-2.9zM651.53 160.97h2.9v2.9h-2.9zM653.05 161.4h2.9v2.9h-2.9zM654.57 161.84h2.9v2.9h-2.9zM656.09 162.26h2.9v2.9h-2.9zM657.61 162.68h2.9v2.9h-2.9zM659.13 163.1h2.9v2.9h-2.9zM660.65 163.51h2.9v2.9h-2.9zM662.17 163.92h2.9v2.9h-2.9zM663.69 164.32h2.9v2.9h-2.9z" fill="#f00"/>
<path d="M403.01 83.11h2.9v2.9h-2.9zM404.57 125.54h2.9v2.9h-2.9zM406.13 148.09h2.9v2.9h-2.9zM407.68 161.3h2.9v2.9h-2.9zM409.24 169.21h2.9v2.9h-2.9zM410.8 175.55h2.9v2.9h-2.9zM412.36 180.13h2.9v2.9h-2.9zM413.92 182.89h2.9v2.9h-2.9zM415.47 184.94h2.9v2.9h-2.9zM417.03 185.96h2.9v2.9h-2.9zM418.59 186.51h2.9v2.9h-2.9zM420.15 186.87h2.9v2.9h-2.9zM421.71 186.97h2.9v2.9h-2.9zM423.26 186.57h2.9v2.9h-2.9zM424.82 185.92h2.9v2.9h-2.9zM426.38 185.04h2.9v2.9h-2.9zM427.94 183.8h2.9v2.9h-2.9zM429.5 182.11h2.9v2.9h-2.9zM431.05 180.15h2.9v2.9h-2.9zM432.61 178.19h2.9v2.9h-2.9zM434.17 175.86h2.9v2.9h-2.9zM435.73 173.47h2.9v2.9h-2.9zM437.29 170.7h2.9v2.9h-2.9zM438.84 167.58h2.9v2.9h-2.9zM440.4 163.57h2.9v2.9h-2.9zM441.96 159.89h2.9v2.9h-2.9zM443.52 156.01h2.9v2.9h-2.9zM445.08 152.13h2.9v2.9h-2.9zM446.63 147.79h2.9v2.9h-2.9zM448.19 142.04h2.9v2.9h-2.9zM449.75 136.54h2.9v2.9h-2.9zM451.31 129.45h2.9v2.9h-2.9zM452.87 124.03h2.9v2.9h-2.9zM454.42 116.23h2.9v2.9h-2.9zM455.98 109.92h2.9v2.9h-2.9zM457.54 102.58h2.9v2.9h-2.9zM459.1 93.63h2.9v2.9h-2.9zM460.66 85.69h2.9v2.9h-2.9zM462.21 76.52h2.9v2.9h-2.9zM463.77 67.61h2.9v2.9h-2.9zM465.33 59.08h2.9v2.9h-2.9zM466.89 51.14h2.9v2.9h-2.9zM468.45 42.8h2.9v2.9h-2.9zM470 35.9h2.9v2.9h-2.9zM471.56 30.88h2.9v2.9h-2.9zM473.12 27.73h2.9v2.9h-2.9zM474.68 26.96h2.9v2.9h-2.9zM476.24 29.39h2.9v2.9h-2.9zM477.79 33.54h2.9v2.9h-2.9zM479.35 40.57h2.9v2.9h-2.9zM480.91 46.07h2.9v2.9h-2.9zM482.47 53.29h2.9v2.9h-2.9zM484.03 59.88h2.9v2.9h-2.9zM485.58 65.42h2.9v2.9h-2.9zM487.14 71.99h2.9v2.9h-2.9zM488.7 77.01h2.9v2.9h-2.9zM490.26 81.52h2.9v2.9h-2.9zM491.82 85.58h2.9v2.9h-2.9zM493.37 88.91h2.9v2.9h-2.9zM494.93 91.78h2.9v2.9h-2.9zM496.49 94.07h2.9v2.9h-2.9zM498.05 95.98h2.9v2.9h-2.9zM499.61 97.63h2.9v2.9h-2.9zM501.16 99.1h2.9v2.9h-2.9zM502.72 100.43h2.9v2.9h-2.9zM504.28 101.66h2.9v2.9h-2.9zM505.84 102.79h2.9v2.9h-2.9zM507.4 103.81h2.9v2.9h-2.9zM508.95 104.72h2.9v2.9h-2.9zM510.51 105.54h2.9v2.9h-2.9zM512.07 106.29h2.9v2.9h-2.9zM513.63 106.99h2.9v2.9h-2.9zM515.19 107.63h2.9v2.9h-2.9zM516.74 108.2h2.9v2.9h-2.9zM518.3 108.7h2.9v2.9h-2.9zM519.86 109.19h2.9v2.9h-2.9zM521.42 109.65h2.9v2.9h-2.9zM522.98 110.06h2.9v2.9h-2.9zM524.53 110.41h2.9v2.9h-2.9zM526.09 110.66h2.9v2.9h-2.9zM527.65 110.83h2.9v2.9h-2.9zM529.21 110.99h2.9v2.9h-2.9zM530.77 111.12h2.9v2.9h-2.9zM532.32 111.23h2.9v2.9h-2.9zM533.88 111.29h2.9v2.9h-2.9zM535.44 111.31h2.9v2.9h-2.9zM537 111.28h2.9v2.9h-2.9zM538.56 111.2h2.9v2.9h-2.9zM540.11 111.09h2.9v2.9h-2.9zM541.67 110.95h2.9v2.9h-2.9zM543.23 110.8h2.9v2.9h-2.9zM544.79 110.64h2.9v2.9h-2.9zM546.35 110.44h2.9v2.9h-2.9zM547.9 110.2h2.9v2.9h-2.9zM549.46 109.92h2.9v2.9h-2.9zM551.02 109.62h2.9v2.9h-2.9zM552.58 109.31h2.9v2.9h-2.9zM554.14 109h2.9v2.9h-2.9zM555.69 108.66h2.9v2.9h-2.9zM557.25 108.3h2.9v2.9h-2.9zM558.81 107.92h2.9v2.9h-2.9zM560.37 107.52h2.9v2.9h-2.9zM561.93 107.11h2.9v2.9h-2.9zM563.48 106.69h2.9v2.9h-2.9zM565.04 106.25h2.9v2.9h-2.9zM566.6 105.81h2.9v2.9h-2.9zM568.16 105.35h2.9v2.9h-2.9zM569.72 104.88h2.9v2.9h-2.9zM571.27 104.4h2.9v2.9h-2.9zM572.83 103.91h2.9v2.9h-2.9zM574.39 103.41h2.9v2.9h-2.9zM575.95 102.89h2.9v2.9h-2.9zM577.51 102.37h2.9v2.9h-2.9zM579.06 101.84h2.9v2.9h-2.9zM580.62 101.31h2.9v2.9h-2.9zM582.18 100.76h2.9v2.9h-2.9zM583.74 100.21h2.9v2.9h-2.9zM585.3 99.65h2.9v2.9h-2.9zM586.85 99.08h2.9v2.9h-2.9zM588.41 98.5h2.9v2.9h-2.9zM589.97 97.9h2.9v2.9h-2.9zM591.53 97.28h2.9v2.9h-2.9zM593.09 96.63h2.9v2.9h-2.9zM594.64 95.95h2.9v2.9h-2.9zM596.2 95.24h2.9v2.9h-2.9zM597.76 94.5h2.9v2.9h-2.9zM599.32 93.72h2.9v2.9h-2.9zM600.88 92.89h2.9v2.9h-2.9zM602.43 92.03h2.9v2.9h-2.9zM603.99 91.12h2.9v2.9h-2.9zM605.55 90.17h2.9v2.9h-2.9zM607.11 89.19h2.9v2.9h-2.9zM608.67 88.16h2.9v2.9h-2.9zM610.22 87.1h2.9v2.9h-2.9zM611.78 85.98h2.9v2.9h-2.9zM613.34 84.79h2.9v2.9h-2.9zM614.9 83.55h2.9v2.9h-2.9zM616.46 82.25h2.9v2.9h-2.9zM618.01 80.89h2.9v2.9h-2.9zM619.57 79.48h2.9v2.9h-2.9zM621.13 78.03h2.9v2.9h-2.9zM622.69 76.52h2.9v2.9h-2.9zM624.25 74.97h2.9v2.9h-2.9zM625.8 73.33h2.9v2.9h-2.9zM627.36 71.62h2.9v2.9h-2.9zM628.92 69.83h2.9v2.9h-2.9zM630.48 67.97h2.9v2.9h-2.9zM632.04 66.04h2.9v2.9h-2.9zM633.59 64.05h2.9v2.9h-2.9zM635.15 62h2.9v2.9h-2.9zM636.71 59.84h2.9v2.9h-2.9zM638.27 57.58h2.9v2.9h-2.9zM639.83 55.23h2.9v2.9h-2.9zM641.38 52.8h2.9v2.9h-2.9zM642.94 50.32h2.9v2.9h-2.9zM644.5 47.8h2.9v2.9h-2.9zM646.06 45.26h2.9v2.9h-2.9zM647.62 42.65h2.9v2.9h-2.9zM649.17 39.93h2.9v2.9h-2.9zM650.73 37.06h2.9v2.9h-2.9zM652.29 33.94h2.9v2.9h-2.9zM653.85 30.29h2.9v2.9h-2.9zM655.41 26.45h2.9v2.9h-2.9zM656.96 22.92h2.9v2.9h-2.9zM658.52 20.02h2.9v2.9h-2.9zM660.08 17.48h2.9v2.9h-2.9z" fill="#00f"/>
<path d="M399.9 236.4V17.04M399 235.5H666.8" stroke="#000" stroke-width="1.8" fill="none"/>
<path d="M399.9 235.5H395.2M399.9 215.64H397M399.9 195.78H395.2M399.9 175.92H397M399.9 156.06H395.2M399.9 136.2H397M399.9 116.34H395.2M399.9 96.48H397M399.9 76.62H395.2M399.9 56.76H397M399.9 36.9H395.2M399.9 17.04H397M399.9 235.5V240.2M418.9 235.5V238.4M437.9 235.5V240.2M456.9 235.5V238.4M475.9 235.5V240.2M494.9 235.5V238.4M513.9 235.5V240.2M532.9 235.5V238.4M551.9 235.5V240.2M570.9 235.5V238.4M589.9 235.5V240.2M608.9 235.5V238.4M627.9 235.5V240.2M646.9 235.5V238.4M665.9 235.5V240.2" stroke="#000" stroke-width="1.6" fill="none"/>
<g font-size="12.2" fill="#000">
<text transform="translate(393.9 238.8) scale(0.93 1)" text-anchor="end">0.0</text>
<text transform="translate(393.9 199.08) scale(0.93 1)" text-anchor="end">0.2</text>
<text transform="translate(393.9 159.36) scale(0.93 1)" text-anchor="end">0.4</text>
<text transform="translate(393.9 119.64) scale(0.93 1)" text-anchor="end">0.6</text>
<text transform="translate(393.9 79.92) scale(0.93 1)" text-anchor="end">0.8</text>
<text transform="translate(393.9 40.2) scale(0.93 1)" text-anchor="end">1.0</text>
<text transform="translate(400.2 251.3) scale(0.93 1)" text-anchor="middle">0.0</text>
<text transform="translate(438.2 251.3) scale(0.93 1)" text-anchor="middle">0.5</text>
<text transform="translate(476.2 251.3) scale(0.93 1)" text-anchor="middle">1.0</text>
<text transform="translate(514.2 251.3) scale(0.93 1)" text-anchor="middle">1.5</text>
<text transform="translate(552.2 251.3) scale(0.93 1)" text-anchor="middle">2.0</text>
<text transform="translate(590.2 251.3) scale(0.93 1)" text-anchor="middle">2.5</text>
<text transform="translate(628.2 251.3) scale(0.93 1)" text-anchor="middle">3.0</text>
<text transform="translate(666.2 251.3) scale(0.93 1)" text-anchor="middle">3.5</text>
</g>
<rect x="467" y="181.8" width="92.6" height="38.6" fill="#fff" stroke="#444" stroke-width="1.3"/>
<path d="M483.45 189.65h2.9v2.9h-2.9z" fill="#000"/>
<path d="M483.45 200.85h2.9v2.9h-2.9z" fill="#f00"/>
<path d="M483.45 211.75h2.9v2.9h-2.9z" fill="#00f"/>
<text x="498.1" y="194.7" font-size="10.5" textLength="56" lengthAdjust="spacingAndGlyphs">Instantaneous</text>
<text x="498.1" y="205.8" font-size="10.5" textLength="47" lengthAdjust="spacingAndGlyphs">Progressive</text>
<text x="498.1" y="216.8" font-size="10.5" textLength="23.8" lengthAdjust="spacingAndGlyphs">-0.9 V</text>
<text transform="translate(369.1 125.4) rotate(-90)" text-anchor="middle" font-size="14" textLength="35.6" lengthAdjust="spacingAndGlyphs">I<tspan dy="-5.2">2</tspan><tspan dy="5.2">/I</tspan><tspan dy="-5.2">2</tspan><tspan dy="5.2">m</tspan></text>
<text x="523" y="271.8" font-size="14.2" textLength="21.6" lengthAdjust="spacingAndGlyphs">t/t<tspan dy="4.2">m</tspan></text>
<text transform="translate(6.2 298.3) scale(0.94 1)" font-size="20.5" style="stroke-width:0.35px">C</text>
<path d="M49.82 493.63h3.2v3.2h-3.2zM50.84 485.58h3.2v3.2h-3.2zM51.86 477.84h3.2v3.2h-3.2zM52.88 470.4h3.2v3.2h-3.2zM53.9 463.25h3.2v3.2h-3.2zM54.92 456.39h3.2v3.2h-3.2zM55.94 449.79h3.2v3.2h-3.2zM56.96 443.45h3.2v3.2h-3.2zM57.98 437.37h3.2v3.2h-3.2zM59 431.53h3.2v3.2h-3.2zM60.02 425.93h3.2v3.2h-3.2zM61.04 420.56h3.2v3.2h-3.2zM62.06 415.4h3.2v3.2h-3.2zM63.08 410.46h3.2v3.2h-3.2zM64.1 405.73h3.2v3.2h-3.2zM65.12 401.19h3.2v3.2h-3.2zM66.14 396.85h3.2v3.2h-3.2zM67.16 392.69h3.2v3.2h-3.2zM68.18 388.71h3.2v3.2h-3.2zM69.2 384.9h3.2v3.2h-3.2zM70.22 381.26h3.2v3.2h-3.2zM71.24 377.78h3.2v3.2h-3.2zM72.26 374.46h3.2v3.2h-3.2zM73.28 371.29h3.2v3.2h-3.2zM74.3 368.26h3.2v3.2h-3.2zM75.32 365.37h3.2v3.2h-3.2zM76.34 362.62h3.2v3.2h-3.2zM77.36 360h3.2v3.2h-3.2zM78.38 357.51h3.2v3.2h-3.2zM79.4 355.14h3.2v3.2h-3.2zM80.42 352.88h3.2v3.2h-3.2zM81.44 350.74h3.2v3.2h-3.2zM82.46 348.71h3.2v3.2h-3.2zM83.48 346.79h3.2v3.2h-3.2zM84.5 344.96h3.2v3.2h-3.2zM85.52 343.24h3.2v3.2h-3.2zM86.54 341.61h3.2v3.2h-3.2zM87.56 340.07h3.2v3.2h-3.2zM88.58 338.62h3.2v3.2h-3.2zM89.6 337.26h3.2v3.2h-3.2zM90.62 335.98h3.2v3.2h-3.2zM91.64 334.77h3.2v3.2h-3.2zM92.66 333.65h3.2v3.2h-3.2zM93.68 332.59h3.2v3.2h-3.2zM94.7 331.61h3.2v3.2h-3.2zM95.72 330.7h3.2v3.2h-3.2zM96.74 329.85h3.2v3.2h-3.2zM97.76 329.07h3.2v3.2h-3.2zM98.78 328.35h3.2v3.2h-3.2zM99.79 327.69h3.2v3.2h-3.2zM100.81 327.08h3.2v3.2h-3.2zM101.83 326.53h3.2v3.2h-3.2zM102.85 326.03h3.2v3.2h-3.2zM103.87 325.58h3.2v3.2h-3.2zM104.89 325.18h3.2v3.2h-3.2zM105.91 324.83h3.2v3.2h-3.2zM106.93 324.53h3.2v3.2h-3.2zM107.95 324.26h3.2v3.2h-3.2zM108.97 324.04h3.2v3.2h-3.2zM109.99 323.86h3.2v3.2h-3.2zM111.01 323.72h3.2v3.2h-3.2zM112.03 323.62h3.2v3.2h-3.2zM113.05 323.55h3.2v3.2h-3.2zM114.07 323.52h3.2v3.2h-3.2zM115.09 323.51h3.2v3.2h-3.2zM116.11 323.55h3.2v3.2h-3.2zM117.13 323.61h3.2v3.2h-3.2zM118.15 323.7h3.2v3.2h-3.2zM119.17 323.82h3.2v3.2h-3.2zM120.19 323.96h3.2v3.2h-3.2zM121.21 324.14h3.2v3.2h-3.2zM122.23 324.33h3.2v3.2h-3.2zM123.25 324.55h3.2v3.2h-3.2zM124.27 324.8h3.2v3.2h-3.2zM125.29 325.06h3.2v3.2h-3.2zM126.31 325.35h3.2v3.2h-3.2zM127.33 325.66h3.2v3.2h-3.2zM128.35 325.98h3.2v3.2h-3.2zM129.37 326.33h3.2v3.2h-3.2zM130.39 326.69h3.2v3.2h-3.2zM131.41 327.07h3.2v3.2h-3.2zM132.43 327.46h3.2v3.2h-3.2zM133.45 327.87h3.2v3.2h-3.2zM134.47 328.29h3.2v3.2h-3.2zM135.49 328.73h3.2v3.2h-3.2zM136.51 329.18h3.2v3.2h-3.2zM137.53 329.65h3.2v3.2h-3.2zM138.55 330.12h3.2v3.2h-3.2zM139.57 330.61h3.2v3.2h-3.2zM140.59 331.11h3.2v3.2h-3.2zM141.61 331.62h3.2v3.2h-3.2zM142.63 332.14h3.2v3.2h-3.2zM143.65 332.66h3.2v3.2h-3.2zM144.67 333.2h3.2v3.2h-3.2zM145.69 333.74h3.2v3.2h-3.2zM146.71 334.3h3.2v3.2h-3.2zM147.73 334.86h3.2v3.2h-3.2zM148.75 335.42h3.2v3.2h-3.2zM149.77 336h3.2v3.2h-3.2zM150.79 336.58h3.2v3.2h-3.2zM151.81 337.16h3.2v3.2h-3.2zM152.83 337.75h3.2v3.2h-3.2zM153.85 338.35h3.2v3.2h-3.2zM154.87 338.95h3.2v3.2h-3.2zM155.89 339.55h3.2v3.2h-3.2zM156.91 340.16h3.2v3.2h-3.2zM157.93 340.77h3.2v3.2h-3.2zM158.95 341.39h3.2v3.2h-3.2zM159.97 342.01h3.2v3.2h-3.2zM160.99 342.63h3.2v3.2h-3.2zM162.01 343.25h3.2v3.2h-3.2zM163.03 343.88h3.2v3.2h-3.2zM164.05 344.51h3.2v3.2h-3.2zM165.07 345.14h3.2v3.2h-3.2zM166.09 345.77h3.2v3.2h-3.2zM167.11 346.41h3.2v3.2h-3.2zM168.13 347.04h3.2v3.2h-3.2zM169.15 347.68h3.2v3.2h-3.2zM170.17 348.31h3.2v3.2h-3.2zM171.19 348.95h3.2v3.2h-3.2zM172.21 349.59h3.2v3.2h-3.2zM173.23 350.23h3.2v3.2h-3.2zM174.25 350.87h3.2v3.2h-3.2zM175.27 351.5h3.2v3.2h-3.2zM176.29 352.14h3.2v3.2h-3.2zM177.31 352.78h3.2v3.2h-3.2zM178.33 353.42h3.2v3.2h-3.2zM179.35 354.05h3.2v3.2h-3.2zM180.37 354.69h3.2v3.2h-3.2zM181.39 355.33h3.2v3.2h-3.2zM182.41 355.96h3.2v3.2h-3.2zM183.43 356.59h3.2v3.2h-3.2zM184.45 357.23h3.2v3.2h-3.2zM185.47 357.86h3.2v3.2h-3.2zM186.49 358.48h3.2v3.2h-3.2zM187.51 359.11h3.2v3.2h-3.2zM188.53 359.74h3.2v3.2h-3.2zM189.55 360.36h3.2v3.2h-3.2zM190.57 360.99h3.2v3.2h-3.2zM191.59 361.61h3.2v3.2h-3.2zM192.61 362.23h3.2v3.2h-3.2zM193.63 362.84h3.2v3.2h-3.2zM194.65 363.46h3.2v3.2h-3.2zM195.67 364.07h3.2v3.2h-3.2zM196.69 364.68h3.2v3.2h-3.2zM197.71 365.29h3.2v3.2h-3.2zM198.73 365.89h3.2v3.2h-3.2zM199.75 366.5h3.2v3.2h-3.2zM200.77 367.1h3.2v3.2h-3.2zM201.78 367.7h3.2v3.2h-3.2zM202.8 368.29h3.2v3.2h-3.2zM203.82 368.89h3.2v3.2h-3.2zM204.84 369.48h3.2v3.2h-3.2zM205.86 370.07h3.2v3.2h-3.2zM206.88 370.65h3.2v3.2h-3.2zM207.9 371.24h3.2v3.2h-3.2zM208.92 371.82h3.2v3.2h-3.2zM209.94 372.39h3.2v3.2h-3.2zM210.96 372.97h3.2v3.2h-3.2zM211.98 373.54h3.2v3.2h-3.2zM213 374.11h3.2v3.2h-3.2zM214.02 374.68h3.2v3.2h-3.2zM215.04 375.24h3.2v3.2h-3.2zM216.06 375.8h3.2v3.2h-3.2zM217.08 376.36h3.2v3.2h-3.2zM218.1 376.91h3.2v3.2h-3.2zM219.12 377.47h3.2v3.2h-3.2zM220.14 378.02h3.2v3.2h-3.2zM221.16 378.56h3.2v3.2h-3.2zM222.18 379.1h3.2v3.2h-3.2zM223.2 379.64h3.2v3.2h-3.2zM224.22 380.18h3.2v3.2h-3.2zM225.24 380.72h3.2v3.2h-3.2zM226.26 381.25h3.2v3.2h-3.2zM227.28 381.78h3.2v3.2h-3.2zM228.3 382.3h3.2v3.2h-3.2zM229.32 382.82h3.2v3.2h-3.2zM230.34 383.34h3.2v3.2h-3.2zM231.36 383.86h3.2v3.2h-3.2zM232.38 384.37h3.2v3.2h-3.2zM233.4 384.88h3.2v3.2h-3.2zM234.42 385.39h3.2v3.2h-3.2zM235.44 385.89h3.2v3.2h-3.2zM236.46 386.39h3.2v3.2h-3.2zM237.48 386.89h3.2v3.2h-3.2zM238.5 387.39h3.2v3.2h-3.2zM239.52 387.88h3.2v3.2h-3.2zM240.54 388.37h3.2v3.2h-3.2zM241.56 388.85h3.2v3.2h-3.2zM242.58 389.34h3.2v3.2h-3.2zM243.6 389.82h3.2v3.2h-3.2zM244.62 390.3h3.2v3.2h-3.2zM245.64 390.77h3.2v3.2h-3.2zM246.66 391.24h3.2v3.2h-3.2zM247.68 391.71h3.2v3.2h-3.2zM248.7 392.17h3.2v3.2h-3.2zM249.72 392.64h3.2v3.2h-3.2zM250.74 393.1h3.2v3.2h-3.2zM251.76 393.55h3.2v3.2h-3.2zM252.78 394.01h3.2v3.2h-3.2zM253.8 394.46h3.2v3.2h-3.2zM254.82 394.91h3.2v3.2h-3.2zM255.84 395.35h3.2v3.2h-3.2zM256.86 395.8h3.2v3.2h-3.2zM257.88 396.24h3.2v3.2h-3.2zM258.9 396.67h3.2v3.2h-3.2zM259.92 397.11h3.2v3.2h-3.2zM260.94 397.54h3.2v3.2h-3.2zM261.96 397.97h3.2v3.2h-3.2zM262.98 398.39h3.2v3.2h-3.2zM264 398.82h3.2v3.2h-3.2zM265.02 399.24h3.2v3.2h-3.2zM266.04 399.66h3.2v3.2h-3.2zM267.06 400.07h3.2v3.2h-3.2zM268.08 400.48h3.2v3.2h-3.2zM269.1 400.89h3.2v3.2h-3.2zM270.12 401.3h3.2v3.2h-3.2zM271.14 401.7h3.2v3.2h-3.2zM272.16 402.11h3.2v3.2h-3.2zM273.18 402.51h3.2v3.2h-3.2zM274.2 402.9h3.2v3.2h-3.2zM275.22 403.3h3.2v3.2h-3.2zM276.24 403.69h3.2v3.2h-3.2zM277.26 404.08h3.2v3.2h-3.2zM278.28 404.46h3.2v3.2h-3.2zM279.3 404.85h3.2v3.2h-3.2zM280.32 405.23h3.2v3.2h-3.2zM281.34 405.61h3.2v3.2h-3.2zM282.36 405.99h3.2v3.2h-3.2zM283.38 406.36h3.2v3.2h-3.2zM284.4 406.73h3.2v3.2h-3.2zM285.42 407.1h3.2v3.2h-3.2zM286.44 407.47h3.2v3.2h-3.2zM287.46 407.83h3.2v3.2h-3.2zM288.48 408.2h3.2v3.2h-3.2zM289.5 408.56h3.2v3.2h-3.2zM290.52 408.91h3.2v3.2h-3.2zM291.54 409.27h3.2v3.2h-3.2zM292.56 409.62h3.2v3.2h-3.2zM293.58 409.97h3.2v3.2h-3.2zM294.6 410.32h3.2v3.2h-3.2zM295.62 410.67h3.2v3.2h-3.2zM296.64 411.01h3.2v3.2h-3.2zM297.66 411.35h3.2v3.2h-3.2zM298.68 411.69h3.2v3.2h-3.2zM299.7 412.03h3.2v3.2h-3.2zM300.72 412.37h3.2v3.2h-3.2zM301.74 412.7h3.2v3.2h-3.2zM302.76 413.03h3.2v3.2h-3.2zM303.77 413.36h3.2v3.2h-3.2zM304.79 413.69h3.2v3.2h-3.2zM305.81 414.01h3.2v3.2h-3.2zM306.83 414.33h3.2v3.2h-3.2zM307.85 414.65h3.2v3.2h-3.2zM308.87 414.97h3.2v3.2h-3.2zM309.89 415.29h3.2v3.2h-3.2zM310.91 415.6h3.2v3.2h-3.2zM311.93 415.92h3.2v3.2h-3.2z" fill="#000"/>
<path d="M48.8 503.6a1.6 1.6 0 1 0 3.2 0a1.6 1.6 0 1 0 -3.2 0zM49.82 503.6a1.6 1.6 0 1 0 3.2 0a1.6 1.6 0 1 0 -3.2 0zM50.84 503.56a1.6 1.6 0 1 0 3.2 0a1.6 1.6 0 1 0 -3.2 0zM51.86 503.48a1.6 1.6 0 1 0 3.2 0a1.6 1.6 0 1 0 -3.2 0zM52.88 503.32a1.6 1.6 0 1 0 3.2 0a1.6 1.6 0 1 0 -3.2 0zM53.9 503.05a1.6 1.6 0 1 0 3.2 0a1.6 1.6 0 1 0 -3.2 0zM54.92 502.66a1.6 1.6 0 1 0 3.2 0a1.6 1.6 0 1 0 -3.2 0zM55.94 502.12a1.6 1.6 0 1 0 3.2 0a1.6 1.6 0 1 0 -3.2 0zM56.96 501.4a1.6 1.6 0 1 0 3.2 0a1.6 1.6 0 1 0 -3.2 0zM57.98 500.5a1.6 1.6 0 1 0 3.2 0a1.6 1.6 0 1 0 -3.2 0zM59 499.39a1.6 1.6 0 1 0 3.2 0a1.6 1.6 0 1 0 -3.2 0zM60.02 498.07a1.6 1.6 0 1 0 3.2 0a1.6 1.6 0 1 0 -3.2 0zM61.04 496.51a1.6 1.6 0 1 0 3.2 0a1.6 1.6 0 1 0 -3.2 0zM62.06 494.71a1.6 1.6 0 1 0 3.2 0a1.6 1.6 0 1 0 -3.2 0zM63.08 492.66a1.6 1.6 0 1 0 3.2 0a1.6 1.6 0 1 0 -3.2 0zM64.1 490.35a1.6 1.6 0 1 0 3.2 0a1.6 1.6 0 1 0 -3.2 0zM65.12 487.79a1.6 1.6 0 1 0 3.2 0a1.6 1.6 0 1 0 -3.2 0zM66.14 484.98a1.6 1.6 0 1 0 3.2 0a1.6 1.6 0 1 0 -3.2 0zM67.16 481.92a1.6 1.6 0 1 0 3.2 0a1.6 1.6 0 1 0 -3.2 0zM68.18 478.61a1.6 1.6 0 1 0 3.2 0a1.6 1.6 0 1 0 -3.2 0zM69.2 475.06a1.6 1.6 0 1 0 3.2 0a1.6 1.6 0 1 0 -3.2 0zM70.22 471.28a1.6 1.6 0 1 0 3.2 0a1.6 1.6 0 1 0 -3.2 0zM71.24 467.29a1.6 1.6 0 1 0 3.2 0a1.6 1.6 0 1 0 -3.2 0zM72.26 463.09a1.6 1.6 0 1 0 3.2 0a1.6 1.6 0 1 0 -3.2 0zM73.28 458.72a1.6 1.6 0 1 0 3.2 0a1.6 1.6 0 1 0 -3.2 0zM74.3 454.17a1.6 1.6 0 1 0 3.2 0a1.6 1.6 0 1 0 -3.2 0zM75.32 449.47a1.6 1.6 0 1 0 3.2 0a1.6 1.6 0 1 0 -3.2 0zM76.34 444.64a1.6 1.6 0 1 0 3.2 0a1.6 1.6 0 1 0 -3.2 0zM77.36 439.71a1.6 1.6 0 1 0 3.2 0a1.6 1.6 0 1 0 -3.2 0zM78.38 434.68a1.6 1.6 0 1 0 3.2 0a1.6 1.6 0 1 0 -3.2 0zM79.4 429.59a1.6 1.6 0 1 0 3.2 0a1.6 1.6 0 1 0 -3.2 0zM80.42 424.46a1.6 1.6 0 1 0 3.2 0a1.6 1.6 0 1 0 -3.2 0zM81.44 419.3a1.6 1.6 0 1 0 3.2 0a1.6 1.6 0 1 0 -3.2 0zM82.46 414.14a1.6 1.6 0 1 0 3.2 0a1.6 1.6 0 1 0 -3.2 0zM83.48 409a1.6 1.6 0 1 0 3.2 0a1.6 1.6 0 1 0 -3.2 0zM84.5 403.9a1.6 1.6 0 1 0 3.2 0a1.6 1.6 0 1 0 -3.2 0zM85.52 398.86a1.6 1.6 0 1 0 3.2 0a1.6 1.6 0 1 0 -3.2 0zM86.54 393.9a1.6 1.6 0 1 0 3.2 0a1.6 1.6 0 1 0 -3.2 0zM87.56 389.03a1.6 1.6 0 1 0 3.2 0a1.6 1.6 0 1 0 -3.2 0zM88.58 384.28a1.6 1.6 0 1 0 3.2 0a1.6 1.6 0 1 0 -3.2 0zM89.6 379.66a1.6 1.6 0 1 0 3.2 0a1.6 1.6 0 1 0 -3.2 0zM90.62 375.18a1.6 1.6 0 1 0 3.2 0a1.6 1.6 0 1 0 -3.2 0zM91.64 370.86a1.6 1.6 0 1 0 3.2 0a1.6 1.6 0 1 0 -3.2 0zM92.66 366.71a1.6 1.6 0 1 0 3.2 0a1.6 1.6 0 1 0 -3.2 0zM93.68 362.74a1.6 1.6 0 1 0 3.2 0a1.6 1.6 0 1 0 -3.2 0zM94.7 358.95a1.6 1.6 0 1 0 3.2 0a1.6 1.6 0 1 0 -3.2 0zM95.72 355.36a1.6 1.6 0 1 0 3.2 0a1.6 1.6 0 1 0 -3.2 0zM96.74 351.97a1.6 1.6 0 1 0 3.2 0a1.6 1.6 0 1 0 -3.2 0zM97.76 348.78a1.6 1.6 0 1 0 3.2 0a1.6 1.6 0 1 0 -3.2 0zM98.78 345.8a1.6 1.6 0 1 0 3.2 0a1.6 1.6 0 1 0 -3.2 0zM99.8 343.03a1.6 1.6 0 1 0 3.2 0a1.6 1.6 0 1 0 -3.2 0zM100.81 340.48a1.6 1.6 0 1 0 3.2 0a1.6 1.6 0 1 0 -3.2 0zM101.83 338.13a1.6 1.6 0 1 0 3.2 0a1.6 1.6 0 1 0 -3.2 0zM102.85 335.99a1.6 1.6 0 1 0 3.2 0a1.6 1.6 0 1 0 -3.2 0zM103.87 334.07a1.6 1.6 0 1 0 3.2 0a1.6 1.6 0 1 0 -3.2 0zM104.89 332.34a1.6 1.6 0 1 0 3.2 0a1.6 1.6 0 1 0 -3.2 0zM105.91 330.82a1.6 1.6 0 1 0 3.2 0a1.6 1.6 0 1 0 -3.2 0zM106.93 329.49a1.6 1.6 0 1 0 3.2 0a1.6 1.6 0 1 0 -3.2 0zM107.95 328.35a1.6 1.6 0 1 0 3.2 0a1.6 1.6 0 1 0 -3.2 0zM108.97 327.39a1.6 1.6 0 1 0 3.2 0a1.6 1.6 0 1 0 -3.2 0zM109.99 326.61a1.6 1.6 0 1 0 3.2 0a1.6 1.6 0 1 0 -3.2 0zM111.01 326a1.6 1.6 0 1 0 3.2 0a1.6 1.6 0 1 0 -3.2 0zM112.03 325.55a1.6 1.6 0 1 0 3.2 0a1.6 1.6 0 1 0 -3.2 0zM113.05 325.26a1.6 1.6 0 1 0 3.2 0a1.6 1.6 0 1 0 -3.2 0zM114.07 325.12a1.6 1.6 0 1 0 3.2 0a1.6 1.6 0 1 0 -3.2 0zM115.09 325.12a1.6 1.6 0 1 0 3.2 0a1.6 1.6 0 1 0 -3.2 0zM116.11 325.25a1.6 1.6 0 1 0 3.2 0a1.6 1.6 0 1 0 -3.2 0zM117.13 325.5a1.6 1.6 0 1 0 3.2 0a1.6 1.6 0 1 0 -3.2 0zM118.15 325.87a1.6 1.6 0 1 0 3.2 0a1.6 1.6 0 1 0 -3.2 0zM119.17 326.35a1.6 1.6 0 1 0 3.2 0a1.6 1.6 0 1 0 -3.2 0zM120.19 326.93a1.6 1.6 0 1 0 3.2 0a1.6 1.6 0 1 0 -3.2 0zM121.21 327.61a1.6 1.6 0 1 0 3.2 0a1.6 1.6 0 1 0 -3.2 0zM122.23 328.37a1.6 1.6 0 1 0 3.2 0a1.6 1.6 0 1 0 -3.2 0zM123.25 329.21a1.6 1.6 0 1 0 3.2 0a1.6 1.6 0 1 0 -3.2 0zM124.27 330.12a1.6 1.6 0 1 0 3.2 0a1.6 1.6 0 1 0 -3.2 0zM125.29 331.1a1.6 1.6 0 1 0 3.2 0a1.6 1.6 0 1 0 -3.2 0zM126.31 332.14a1.6 1.6 0 1 0 3.2 0a1.6 1.6 0 1 0 -3.2 0zM127.33 333.23a1.6 1.6 0 1 0 3.2 0a1.6 1.6 0 1 0 -3.2 0zM128.35 334.37a1.6 1.6 0 1 0 3.2 0a1.6 1.6 0 1 0 -3.2 0zM129.37 335.56a1.6 1.6 0 1 0 3.2 0a1.6 1.6 0 1 0 -3.2 0zM130.39 336.78a1.6 1.6 0 1 0 3.2 0a1.6 1.6 0 1 0 -3.2 0zM131.41 338.03a1.6 1.6 0 1 0 3.2 0a1.6 1.6 0 1 0 -3.2 0zM132.43 339.31a1.6 1.6 0 1 0 3.2 0a1.6 1.6 0 1 0 -3.2 0zM133.45 340.61a1.6 1.6 0 1 0 3.2 0a1.6 1.6 0 1 0 -3.2 0zM134.47 341.94a1.6 1.6 0 1 0 3.2 0a1.6 1.6 0 1 0 -3.2 0zM135.49 343.28a1.6 1.6 0 1 0 3.2 0a1.6 1.6 0 1 0 -3.2 0zM136.51 344.63a1.6 1.6 0 1 0 3.2 0a1.6 1.6 0 1 0 -3.2 0zM137.53 345.99a1.6 1.6 0 1 0 3.2 0a1.6 1.6 0 1 0 -3.2 0zM138.55 347.36a1.6 1.6 0 1 0 3.2 0a1.6 1.6 0 1 0 -3.2 0zM139.57 348.73a1.6 1.6 0 1 0 3.2 0a1.6 1.6 0 1 0 -3.2 0zM140.59 350.11a1.6 1.6 0 1 0 3.2 0a1.6 1.6 0 1 0 -3.2 0zM141.61 351.48a1.6 1.6 0 1 0 3.2 0a1.6 1.6 0 1 0 -3.2 0zM142.63 352.85a1.6 1.6 0 1 0 3.2 0a1.6 1.6 0 1 0 -3.2 0zM143.65 354.21a1.6 1.6 0 1 0 3.2 0a1.6 1.6 0 1 0 -3.2 0zM144.67 355.57a1.6 1.6 0 1 0 3.2 0a1.6 1.6 0 1 0 -3.2 0zM145.69 356.92a1.6 1.6 0 1 0 3.2 0a1.6 1.6 0 1 0 -3.2 0zM146.71 358.26a1.6 1.6 0 1 0 3.2 0a1.6 1.6 0 1 0 -3.2 0zM147.73 359.59a1.6 1.6 0 1 0 3.2 0a1.6 1.6 0 1 0 -3.2 0zM148.75 360.91a1.6 1.6 0 1 0 3.2 0a1.6 1.6 0 1 0 -3.2 0zM149.77 362.22a1.6 1.6 0 1 0 3.2 0a1.6 1.6 0 1 0 -3.2 0zM150.79 363.51a1.6 1.6 0 1 0 3.2 0a1.6 1.6 0 1 0 -3.2 0zM151.81 364.79a1.6 1.6 0 1 0 3.2 0a1.6 1.6 0 1 0 -3.2 0zM152.83 366.05a1.6 1.6 0 1 0 3.2 0a1.6 1.6 0 1 0 -3.2 0zM153.85 367.3a1.6 1.6 0 1 0 3.2 0a1.6 1.6 0 1 0 -3.2 0zM154.87 368.53a1.6 1.6 0 1 0 3.2 0a1.6 1.6 0 1 0 -3.2 0zM155.89 369.75a1.6 1.6 0 1 0 3.2 0a1.6 1.6 0 1 0 -3.2 0zM156.91 370.95a1.6 1.6 0 1 0 3.2 0a1.6 1.6 0 1 0 -3.2 0zM157.93 372.14a1.6 1.6 0 1 0 3.2 0a1.6 1.6 0 1 0 -3.2 0zM158.95 373.31a1.6 1.6 0 1 0 3.2 0a1.6 1.6 0 1 0 -3.2 0zM159.97 374.46a1.6 1.6 0 1 0 3.2 0a1.6 1.6 0 1 0 -3.2 0zM160.99 375.6a1.6 1.6 0 1 0 3.2 0a1.6 1.6 0 1 0 -3.2 0zM162.01 376.72a1.6 1.6 0 1 0 3.2 0a1.6 1.6 0 1 0 -3.2 0zM163.03 377.82a1.6 1.6 0 1 0 3.2 0a1.6 1.6 0 1 0 -3.2 0zM164.05 378.91a1.6 1.6 0 1 0 3.2 0a1.6 1.6 0 1 0 -3.2 0zM165.07 379.98a1.6 1.6 0 1 0 3.2 0a1.6 1.6 0 1 0 -3.2 0zM166.09 381.03a1.6 1.6 0 1 0 3.2 0a1.6 1.6 0 1 0 -3.2 0zM167.11 382.07a1.6 1.6 0 1 0 3.2 0a1.6 1.6 0 1 0 -3.2 0zM168.13 383.1a1.6 1.6 0 1 0 3.2 0a1.6 1.6 0 1 0 -3.2 0zM169.15 384.1a1.6 1.6 0 1 0 3.2 0a1.6 1.6 0 1 0 -3.2 0zM170.17 385.1a1.6 1.6 0 1 0 3.2 0a1.6 1.6 0 1 0 -3.2 0zM171.19 386.07a1.6 1.6 0 1 0 3.2 0a1.6 1.6 0 1 0 -3.2 0zM172.21 387.04a1.6 1.6 0 1 0 3.2 0a1.6 1.6 0 1 0 -3.2 0zM173.23 387.98a1.6 1.6 0 1 0 3.2 0a1.6 1.6 0 1 0 -3.2 0zM174.25 388.92a1.6 1.6 0 1 0 3.2 0a1.6 1.6 0 1 0 -3.2 0zM175.27 389.84a1.6 1.6 0 1 0 3.2 0a1.6 1.6 0 1 0 -3.2 0zM176.29 390.74a1.6 1.6 0 1 0 3.2 0a1.6 1.6 0 1 0 -3.2 0zM177.31 391.63a1.6 1.6 0 1 0 3.2 0a1.6 1.6 0 1 0 -3.2 0zM178.33 392.51a1.6 1.6 0 1 0 3.2 0a1.6 1.6 0 1 0 -3.2 0zM179.35 393.37a1.6 1.6 0 1 0 3.2 0a1.6 1.6 0 1 0 -3.2 0zM180.37 394.22a1.6 1.6 0 1 0 3.2 0a1.6 1.6 0 1 0 -3.2 0zM181.39 395.06a1.6 1.6 0 1 0 3.2 0a1.6 1.6 0 1 0 -3.2 0zM182.41 395.89a1.6 1.6 0 1 0 3.2 0a1.6 1.6 0 1 0 -3.2 0zM183.43 396.7a1.6 1.6 0 1 0 3.2 0a1.6 1.6 0 1 0 -3.2 0zM184.45 397.51a1.6 1.6 0 1 0 3.2 0a1.6 1.6 0 1 0 -3.2 0zM185.47 398.3a1.6 1.6 0 1 0 3.2 0a1.6 1.6 0 1 0 -3.2 0zM186.49 399.08a1.6 1.6 0 1 0 3.2 0a1.6 1.6 0 1 0 -3.2 0zM187.51 399.84a1.6 1.6 0 1 0 3.2 0a1.6 1.6 0 1 0 -3.2 0zM188.53 400.6a1.6 1.6 0 1 0 3.2 0a1.6 1.6 0 1 0 -3.2 0zM189.55 401.34a1.6 1.6 0 1 0 3.2 0a1.6 1.6 0 1 0 -3.2 0zM190.57 402.08a1.6 1.6 0 1 0 3.2 0a1.6 1.6 0 1 0 -3.2 0zM191.59 402.8a1.6 1.6 0 1 0 3.2 0a1.6 1.6 0 1 0 -3.2 0zM192.61 403.52a1.6 1.6 0 1 0 3.2 0a1.6 1.6 0 1 0 -3.2 0zM193.63 404.22a1.6 1.6 0 1 0 3.2 0a1.6 1.6 0 1 0 -3.2 0zM194.65 404.92a1.6 1.6 0 1 0 3.2 0a1.6 1.6 0 1 0 -3.2 0zM195.67 405.6a1.6 1.6 0 1 0 3.2 0a1.6 1.6 0 1 0 -3.2 0zM196.69 406.28a1.6 1.6 0 1 0 3.2 0a1.6 1.6 0 1 0 -3.2 0zM197.71 406.94a1.6 1.6 0 1 0 3.2 0a1.6 1.6 0 1 0 -3.2 0zM198.73 407.6a1.6 1.6 0 1 0 3.2 0a1.6 1.6 0 1 0 -3.2 0zM199.75 408.25a1.6 1.6 0 1 0 3.2 0a1.6 1.6 0 1 0 -3.2 0zM200.77 408.89a1.6 1.6 0 1 0 3.2 0a1.6 1.6 0 1 0 -3.2 0zM201.79 409.52a1.6 1.6 0 1 0 3.2 0a1.6 1.6 0 1 0 -3.2 0zM202.8 410.14a1.6 1.6 0 1 0 3.2 0a1.6 1.6 0 1 0 -3.2 0zM203.82 410.76a1.6 1.6 0 1 0 3.2 0a1.6 1.6 0 1 0 -3.2 0zM204.84 411.37a1.6 1.6 0 1 0 3.2 0a1.6 1.6 0 1 0 -3.2 0zM205.86 411.96a1.6 1.6 0 1 0 3.2 0a1.6 1.6 0 1 0 -3.2 0zM206.88 412.56a1.6 1.6 0 1 0 3.2 0a1.6 1.6 0 1 0 -3.2 0zM207.9 413.14a1.6 1.6 0 1 0 3.2 0a1.6 1.6 0 1 0 -3.2 0zM208.92 413.72a1.6 1.6 0 1 0 3.2 0a1.6 1.6 0 1 0 -3.2 0zM209.94 414.28a1.6 1.6 0 1 0 3.2 0a1.6 1.6 0 1 0 -3.2 0zM210.96 414.85a1.6 1.6 0 1 0 3.2 0a1.6 1.6 0 1 0 -3.2 0zM211.98 415.4a1.6 1.6 0 1 0 3.2 0a1.6 1.6 0 1 0 -3.2 0zM213 415.95a1.6 1.6 0 1 0 3.2 0a1.6 1.6 0 1 0 -3.2 0zM214.02 416.49a1.6 1.6 0 1 0 3.2 0a1.6 1.6 0 1 0 -3.2 0zM215.04 417.02a1.6 1.6 0 1 0 3.2 0a1.6 1.6 0 1 0 -3.2 0zM216.06 417.55a1.6 1.6 0 1 0 3.2 0a1.6 1.6 0 1 0 -3.2 0zM217.08 418.07a1.6 1.6 0 1 0 3.2 0a1.6 1.6 0 1 0 -3.2 0zM218.1 418.59a1.6 1.6 0 1 0 3.2 0a1.6 1.6 0 1 0 -3.2 0zM219.12 419.1a1.6 1.6 0 1 0 3.2 0a1.6 1.6 0 1 0 -3.2 0zM220.14 419.6a1.6 1.6 0 1 0 3.2 0a1.6 1.6 0 1 0 -3.2 0zM221.16 420.1a1.6 1.6 0 1 0 3.2 0a1.6 1.6 0 1 0 -3.2 0zM222.18 420.59a1.6 1.6 0 1 0 3.2 0a1.6 1.6 0 1 0 -3.2 0zM223.2 421.07a1.6 1.6 0 1 0 3.2 0a1.6 1.6 0 1 0 -3.2 0zM224.22 421.55a1.6 1.6 0 1 0 3.2 0a1.6 1.6 0 1 0 -3.2 0zM225.24 422.03a1.6 1.6 0 1 0 3.2 0a1.6 1.6 0 1 0 -3.2 0zM226.26 422.5a1.6 1.6 0 1 0 3.2 0a1.6 1.6 0 1 0 -3.2 0zM227.28 422.96a1.6 1.6 0 1 0 3.2 0a1.6 1.6 0 1 0 -3.2 0zM228.3 423.42a1.6 1.6 0 1 0 3.2 0a1.6 1.6 0 1 0 -3.2 0zM229.32 423.87a1.6 1.6 0 1 0 3.2 0a1.6 1.6 0 1 0 -3.2 0zM230.34 424.32a1.6 1.6 0 1 0 3.2 0a1.6 1.6 0 1 0 -3.2 0zM231.36 424.76a1.6 1.6 0 1 0 3.2 0a1.6 1.6 0 1 0 -3.2 0zM232.38 425.2a1.6 1.6 0 1 0 3.2 0a1.6 1.6 0 1 0 -3.2 0zM233.4 425.63a1.6 1.6 0 1 0 3.2 0a1.6 1.6 0 1 0 -3.2 0zM234.42 426.06a1.6 1.6 0 1 0 3.2 0a1.6 1.6 0 1 0 -3.2 0zM235.44 426.49a1.6 1.6 0 1 0 3.2 0a1.6 1.6 0 1 0 -3.2 0zM236.46 426.91a1.6 1.6 0 1 0 3.2 0a1.6 1.6 0 1 0 -3.2 0zM237.48 427.32a1.6 1.6 0 1 0 3.2 0a1.6 1.6 0 1 0 -3.2 0zM238.5 427.73a1.6 1.6 0 1 0 3.2 0a1.6 1.6 0 1 0 -3.2 0zM239.52 428.14a1.6 1.6 0 1 0 3.2 0a1.6 1.6 0 1 0 -3.2 0zM240.54 428.54a1.6 1.6 0 1 0 3.2 0a1.6 1.6 0 1 0 -3.2 0zM241.56 428.93a1.6 1.6 0 1 0 3.2 0a1.6 1.6 0 1 0 -3.2 0zM242.58 429.33a1.6 1.6 0 1 0 3.2 0a1.6 1.6 0 1 0 -3.2 0zM243.6 429.72a1.6 1.6 0 1 0 3.2 0a1.6 1.6 0 1 0 -3.2 0zM244.62 430.1a1.6 1.6 0 1 0 3.2 0a1.6 1.6 0 1 0 -3.2 0zM245.64 430.48a1.6 1.6 0 1 0 3.2 0a1.6 1.6 0 1 0 -3.2 0zM246.66 430.86a1.6 1.6 0 1 0 3.2 0a1.6 1.6 0 1 0 -3.2 0zM247.68 431.23a1.6 1.6 0 1 0 3.2 0a1.6 1.6 0 1 0 -3.2 0zM248.7 431.6a1.6 1.6 0 1 0 3.2 0a1.6 1.6 0 1 0 -3.2 0zM249.72 431.97a1.6 1.6 0 1 0 3.2 0a1.6 1.6 0 1 0 -3.2 0zM250.74 432.33a1.6 1.6 0 1 0 3.2 0a1.6 1.6 0 1 0 -3.2 0zM251.76 432.69a1.6 1.6 0 1 0 3.2 0a1.6 1.6 0 1 0 -3.2 0zM252.78 433.04a1.6 1.6 0 1 0 3.2 0a1.6 1.6 0 1 0 -3.2 0zM253.8 433.39a1.6 1.6 0 1 0 3.2 0a1.6 1.6 0 1 0 -3.2 0zM254.82 433.74a1.6 1.6 0 1 0 3.2 0a1.6 1.6 0 1 0 -3.2 0zM255.84 434.08a1.6 1.6 0 1 0 3.2 0a1.6 1.6 0 1 0 -3.2 0zM256.86 434.42a1.6 1.6 0 1 0 3.2 0a1.6 1.6 0 1 0 -3.2 0zM257.88 434.76a1.6 1.6 0 1 0 3.2 0a1.6 1.6 0 1 0 -3.2 0zM258.9 435.1a1.6 1.6 0 1 0 3.2 0a1.6 1.6 0 1 0 -3.2 0zM259.92 435.43a1.6 1.6 0 1 0 3.2 0a1.6 1.6 0 1 0 -3.2 0zM260.94 435.75a1.6 1.6 0 1 0 3.2 0a1.6 1.6 0 1 0 -3.2 0zM261.96 436.08a1.6 1.6 0 1 0 3.2 0a1.6 1.6 0 1 0 -3.2 0zM262.98 436.4a1.6 1.6 0 1 0 3.2 0a1.6 1.6 0 1 0 -3.2 0zM264 436.72a1.6 1.6 0 1 0 3.2 0a1.6 1.6 0 1 0 -3.2 0zM265.02 437.03a1.6 1.6 0 1 0 3.2 0a1.6 1.6 0 1 0 -3.2 0zM266.04 437.35a1.6 1.6 0 1 0 3.2 0a1.6 1.6 0 1 0 -3.2 0zM267.06 437.66a1.6 1.6 0 1 0 3.2 0a1.6 1.6 0 1 0 -3.2 0zM268.08 437.96a1.6 1.6 0 1 0 3.2 0a1.6 1.6 0 1 0 -3.2 0zM269.1 438.27a1.6 1.6 0 1 0 3.2 0a1.6 1.6 0 1 0 -3.2 0zM270.12 438.57a1.6 1.6 0 1 0 3.2 0a1.6 1.6 0 1 0 -3.2 0zM271.14 438.87a1.6 1.6 0 1 0 3.2 0a1.6 1.6 0 1 0 -3.2 0zM272.16 439.16a1.6 1.6 0 1 0 3.2 0a1.6 1.6 0 1 0 -3.2 0zM273.18 439.46a1.6 1.6 0 1 0 3.2 0a1.6 1.6 0 1 0 -3.2 0zM274.2 439.75a1.6 1.6 0 1 0 3.2 0a1.6 1.6 0 1 0 -3.2 0zM275.22 440.03a1.6 1.6 0 1 0 3.2 0a1.6 1.6 0 1 0 -3.2 0zM276.24 440.32a1.6 1.6 0 1 0 3.2 0a1.6 1.6 0 1 0 -3.2 0zM277.26 440.6a1.6 1.6 0 1 0 3.2 0a1.6 1.6 0 1 0 -3.2 0zM278.28 440.88a1.6 1.6 0 1 0 3.2 0a1.6 1.6 0 1 0 -3.2 0zM279.3 441.16a1.6 1.6 0 1 0 3.2 0a1.6 1.6 0 1 0 -3.2 0zM280.32 441.43a1.6 1.6 0 1 0 3.2 0a1.6 1.6 0 1 0 -3.2 0zM281.34 441.71a1.6 1.6 0 1 0 3.2 0a1.6 1.6 0 1 0 -3.2 0zM282.36 441.98a1.6 1.6 0 1 0 3.2 0a1.6 1.6 0 1 0 -3.2 0zM283.38 442.24a1.6 1.6 0 1 0 3.2 0a1.6 1.6 0 1 0 -3.2 0zM284.4 442.51a1.6 1.6 0 1 0 3.2 0a1.6 1.6 0 1 0 -3.2 0zM285.42 442.77a1.6 1.6 0 1 0 3.2 0a1.6 1.6 0 1 0 -3.2 0zM286.44 443.03a1.6 1.6 0 1 0 3.2 0a1.6 1.6 0 1 0 -3.2 0zM287.46 443.29a1.6 1.6 0 1 0 3.2 0a1.6 1.6 0 1 0 -3.2 0zM288.48 443.55a1.6 1.6 0 1 0 3.2 0a1.6 1.6 0 1 0 -3.2 0zM289.5 443.8a1.6 1.6 0 1 0 3.2 0a1.6 1.6 0 1 0 -3.2 0zM290.52 444.06a1.6 1.6 0 1 0 3.2 0a1.6 1.6 0 1 0 -3.2 0zM291.54 444.31a1.6 1.6 0 1 0 3.2 0a1.6 1.6 0 1 0 -3.2 0zM292.56 444.55a1.6 1.6 0 1 0 3.2 0a1.6 1.6 0 1 0 -3.2 0zM293.58 444.8a1.6 1.6 0 1 0 3.2 0a1.6 1.6 0 1 0 -3.2 0zM294.6 445.04a1.6 1.6 0 1 0 3.2 0a1.6 1.6 0 1 0 -3.2 0zM295.62 445.29a1.6 1.6 0 1 0 3.2 0a1.6 1.6 0 1 0 -3.2 0zM296.64 445.53a1.6 1.6 0 1 0 3.2 0a1.6 1.6 0 1 0 -3.2 0zM297.66 445.76a1.6 1.6 0 1 0 3.2 0a1.6 1.6 0 1 0 -3.2 0zM298.68 446a1.6 1.6 0 1 0 3.2 0a1.6 1.6 0 1 0 -3.2 0zM299.7 446.23a1.6 1.6 0 1 0 3.2 0a1.6 1.6 0 1 0 -3.2 0zM300.72 446.47a1.6 1.6 0 1 0 3.2 0a1.6 1.6 0 1 0 -3.2 0zM301.74 446.7a1.6 1.6 0 1 0 3.2 0a1.6 1.6 0 1 0 -3.2 0zM302.76 446.93a1.6 1.6 0 1 0 3.2 0a1.6 1.6 0 1 0 -3.2 0zM303.77 447.15a1.6 1.6 0 1 0 3.2 0a1.6 1.6 0 1 0 -3.2 0zM304.79 447.38a1.6 1.6 0 1 0 3.2 0a1.6 1.6 0 1 0 -3.2 0zM305.81 447.6a1.6 1.6 0 1 0 3.2 0a1.6 1.6 0 1 0 -3.2 0zM306.83 447.82a1.6 1.6 0 1 0 3.2 0a1.6 1.6 0 1 0 -3.2 0zM307.85 448.04a1.6 1.6 0 1 0 3.2 0a1.6 1.6 0 1 0 -3.2 0zM308.87 448.26a1.6 1.6 0 1 0 3.2 0a1.6 1.6 0 1 0 -3.2 0zM309.89 448.48a1.6 1.6 0 1 0 3.2 0a1.6 1.6 0 1 0 -3.2 0zM310.91 448.69a1.6 1.6 0 1 0 3.2 0a1.6 1.6 0 1 0 -3.2 0zM311.93 448.9a1.6 1.6 0 1 0 3.2 0a1.6 1.6 0 1 0 -3.2 0z" fill="#f00"/>
<path d="M51.32 458.66l2 3.2h-4zM52.36 470.68l2 3.2h-4zM53.4 474.91l2 3.2h-4zM54.44 476.27l2 3.2h-4zM55.48 477.34l2 3.2h-4zM56.52 478.61l2 3.2h-4zM57.56 479.82l2 3.2h-4zM58.6 480.98l2 3.2h-4zM59.64 482.11l2 3.2h-4zM60.68 483.3l2 3.2h-4zM61.72 484.46l2 3.2h-4zM62.76 485.43l2 3.2h-4zM63.8 486.08l2 3.2h-4zM64.84 486.66l2 3.2h-4zM65.88 487.12l2 3.2h-4zM66.92 487.38l2 3.2h-4zM67.96 487.39l2 3.2h-4zM69 487.36l2 3.2h-4zM70.03 487.31l2 3.2h-4zM71.07 487.23l2 3.2h-4zM72.11 486.99l2 3.2h-4zM73.15 486.41l2 3.2h-4zM74.19 485.54l2 3.2h-4zM75.23 483.88l2 3.2h-4zM76.27 480.95l2 3.2h-4zM77.31 477.89l2 3.2h-4zM78.35 474.09l2 3.2h-4zM79.39 469.38l2 3.2h-4zM80.43 463.9l2 3.2h-4zM81.47 458.51l2 3.2h-4zM82.51 451.27l2 3.2h-4zM83.55 440.5l2 3.2h-4zM84.59 430.88l2 3.2h-4zM85.63 421.93l2 3.2h-4zM86.67 411.41l2 3.2h-4zM87.71 399.63l2 3.2h-4zM88.75 390.31l2 3.2h-4zM89.79 381.57l2 3.2h-4zM90.83 373.33l2 3.2h-4zM91.87 366.26l2 3.2h-4zM92.91 359.56l2 3.2h-4zM93.95 352.55l2 3.2h-4zM94.99 346.85l2 3.2h-4zM96.03 342.91l2 3.2h-4zM97.07 339.11l2 3.2h-4zM98.11 334.76l2 3.2h-4zM99.14 331.64l2 3.2h-4zM100.18 329.27l2 3.2h-4zM101.22 327.37l2 3.2h-4zM102.26 325.92l2 3.2h-4zM103.3 324.73l2 3.2h-4zM104.34 323.82l2 3.2h-4zM105.38 323.01l2 3.2h-4zM106.42 322.35l2 3.2h-4zM107.46 321.94l2 3.2h-4zM108.5 321.74l2 3.2h-4zM109.54 321.57l2 3.2h-4zM110.58 321.45l2 3.2h-4zM111.62 321.4l2 3.2h-4zM112.66 321.54l2 3.2h-4zM113.7 322.11l2 3.2h-4zM114.74 322.81l2 3.2h-4zM115.78 323.34l2 3.2h-4zM116.82 323.77l2 3.2h-4zM117.86 324.16l2 3.2h-4zM118.9 324.56l2 3.2h-4zM119.94 324.98l2 3.2h-4zM120.98 325.47l2 3.2h-4zM122.02 326.06l2 3.2h-4zM123.06 326.7l2 3.2h-4zM124.1 327.34l2 3.2h-4zM125.14 327.92l2 3.2h-4zM126.18 328.47l2 3.2h-4zM127.21 329l2 3.2h-4zM128.25 329.52l2 3.2h-4zM129.29 330.04l2 3.2h-4zM130.33 330.56l2 3.2h-4zM131.37 331.1l2 3.2h-4zM132.41 331.66l2 3.2h-4zM133.45 332.23l2 3.2h-4zM134.49 332.83l2 3.2h-4zM135.53 333.43l2 3.2h-4zM136.57 334.03l2 3.2h-4zM137.61 334.62l2 3.2h-4zM138.65 335.19l2 3.2h-4zM139.69 335.74l2 3.2h-4zM140.73 336.26l2 3.2h-4zM141.77 336.77l2 3.2h-4zM142.81 337.27l2 3.2h-4zM143.85 337.76l2 3.2h-4zM144.89 338.26l2 3.2h-4zM145.93 338.76l2 3.2h-4zM146.97 339.28l2 3.2h-4zM148.01 339.81l2 3.2h-4zM149.05 340.33l2 3.2h-4zM150.09 340.87l2 3.2h-4zM151.13 341.4l2 3.2h-4zM152.17 341.95l2 3.2h-4zM153.21 342.51l2 3.2h-4zM154.25 343.08l2 3.2h-4zM155.29 343.66l2 3.2h-4zM156.32 344.25l2 3.2h-4zM157.36 344.85l2 3.2h-4zM158.4 345.46l2 3.2h-4zM159.44 346.08l2 3.2h-4zM160.48 346.7l2 3.2h-4zM161.52 347.33l2 3.2h-4zM162.56 347.96l2 3.2h-4zM163.6 348.59l2 3.2h-4zM164.64 349.23l2 3.2h-4zM165.68 349.86l2 3.2h-4zM166.72 350.5l2 3.2h-4zM167.76 351.13l2 3.2h-4zM168.8 351.76l2 3.2h-4zM169.84 352.39l2 3.2h-4zM170.88 353.02l2 3.2h-4zM171.92 353.66l2 3.2h-4zM172.96 354.3l2 3.2h-4zM174 354.95l2 3.2h-4zM175.04 355.59l2 3.2h-4zM176.08 356.23l2 3.2h-4zM177.12 356.88l2 3.2h-4zM178.16 357.52l2 3.2h-4zM179.2 358.16l2 3.2h-4zM180.24 358.79l2 3.2h-4zM181.28 359.42l2 3.2h-4zM182.32 360.04l2 3.2h-4zM183.36 360.65l2 3.2h-4zM184.4 361.26l2 3.2h-4zM185.43 361.88l2 3.2h-4zM186.47 362.51l2 3.2h-4zM187.51 363.14l2 3.2h-4zM188.55 363.76l2 3.2h-4zM189.59 364.38l2 3.2h-4zM190.63 365l2 3.2h-4zM191.67 365.6l2 3.2h-4zM192.71 366.19l2 3.2h-4zM193.75 366.77l2 3.2h-4zM194.79 367.32l2 3.2h-4zM195.83 367.85l2 3.2h-4zM196.87 368.36l2 3.2h-4zM197.91 368.84l2 3.2h-4zM198.95 369.29l2 3.2h-4zM199.99 369.73l2 3.2h-4zM201.03 370.15l2 3.2h-4zM202.07 370.56l2 3.2h-4zM203.11 370.95l2 3.2h-4zM204.15 371.33l2 3.2h-4zM205.19 371.71l2 3.2h-4zM206.23 372.07l2 3.2h-4zM207.27 372.43l2 3.2h-4zM208.31 372.78l2 3.2h-4zM209.35 373.14l2 3.2h-4zM210.39 373.49l2 3.2h-4zM211.43 373.84l2 3.2h-4zM212.47 374.19l2 3.2h-4zM213.51 374.54l2 3.2h-4zM214.54 374.88l2 3.2h-4zM215.58 375.21l2 3.2h-4zM216.62 375.54l2 3.2h-4zM217.66 375.86l2 3.2h-4zM218.7 376.18l2 3.2h-4zM219.74 376.5l2 3.2h-4zM220.78 376.82l2 3.2h-4zM221.82 377.14l2 3.2h-4zM222.86 377.47l2 3.2h-4zM223.9 377.81l2 3.2h-4zM224.94 378.15l2 3.2h-4zM225.98 378.5l2 3.2h-4zM227.02 378.86l2 3.2h-4zM228.06 379.24l2 3.2h-4zM229.1 379.61l2 3.2h-4zM230.14 380l2 3.2h-4zM231.18 380.39l2 3.2h-4zM232.22 380.78l2 3.2h-4zM233.26 381.17l2 3.2h-4zM234.3 381.56l2 3.2h-4zM235.34 381.95l2 3.2h-4zM236.38 382.34l2 3.2h-4zM237.42 382.72l2 3.2h-4zM238.46 383.1l2 3.2h-4zM239.5 383.47l2 3.2h-4zM240.54 383.84l2 3.2h-4zM241.58 384.19l2 3.2h-4zM242.61 384.53l2 3.2h-4zM243.65 384.86l2 3.2h-4zM244.69 385.17l2 3.2h-4zM245.73 385.48l2 3.2h-4zM246.77 385.78l2 3.2h-4zM247.81 386.08l2 3.2h-4zM248.85 386.37l2 3.2h-4zM249.89 386.66l2 3.2h-4zM250.93 386.95l2 3.2h-4zM251.97 387.23l2 3.2h-4zM253.01 387.5l2 3.2h-4zM254.05 387.78l2 3.2h-4zM255.09 388.05l2 3.2h-4zM256.13 388.31l2 3.2h-4zM257.17 388.58l2 3.2h-4zM258.21 388.84l2 3.2h-4zM259.25 389.1l2 3.2h-4zM260.29 389.35l2 3.2h-4zM261.33 389.61l2 3.2h-4zM262.37 389.86l2 3.2h-4zM263.41 390.1l2 3.2h-4zM264.45 390.35l2 3.2h-4zM265.49 390.6l2 3.2h-4zM266.53 390.84l2 3.2h-4zM267.57 391.08l2 3.2h-4zM268.61 391.32l2 3.2h-4zM269.65 391.56l2 3.2h-4zM270.69 391.8l2 3.2h-4zM271.72 392.04l2 3.2h-4zM272.76 392.28l2 3.2h-4zM273.8 392.51l2 3.2h-4zM274.84 392.75l2 3.2h-4zM275.88 392.98l2 3.2h-4zM276.92 393.22l2 3.2h-4zM277.96 393.46l2 3.2h-4zM279 393.69l2 3.2h-4zM280.04 393.92l2 3.2h-4zM281.08 394.16l2 3.2h-4zM282.12 394.39l2 3.2h-4zM283.16 394.62l2 3.2h-4zM284.2 394.85l2 3.2h-4zM285.24 395.08l2 3.2h-4zM286.28 395.3l2 3.2h-4zM287.32 395.53l2 3.2h-4zM288.36 395.75l2 3.2h-4zM289.4 395.98l2 3.2h-4zM290.44 396.2l2 3.2h-4zM291.48 396.42l2 3.2h-4zM292.52 396.64l2 3.2h-4zM293.56 396.86l2 3.2h-4zM294.6 397.08l2 3.2h-4zM295.64 397.3l2 3.2h-4zM296.68 397.51l2 3.2h-4zM297.72 397.73l2 3.2h-4zM298.76 397.94l2 3.2h-4zM299.8 398.15l2 3.2h-4zM300.83 398.36l2 3.2h-4zM301.87 398.57l2 3.2h-4zM302.91 398.78l2 3.2h-4zM303.95 398.98l2 3.2h-4zM304.99 399.19l2 3.2h-4zM306.03 399.39l2 3.2h-4zM307.07 399.59l2 3.2h-4zM308.11 399.79l2 3.2h-4zM309.15 399.99l2 3.2h-4zM310.19 400.19l2 3.2h-4zM311.23 400.39l2 3.2h-4zM312.27 400.58l2 3.2h-4zM313.31 400.77l2 3.2h-4z" fill="#00f"/>
<path d="M50.4 522.35V307.25M49.5 521.45H314.5" stroke="#000" stroke-width="1.8" fill="none"/>
<path d="M50.4 521.45H47.5M50.4 503.6H45.7M50.4 485.75H47.5M50.4 467.9H45.7M50.4 450.05H47.5M50.4 432.2H45.7M50.4 414.35H47.5M50.4 396.5H45.7M50.4 378.65H47.5M50.4 360.8H45.7M50.4 342.95H47.5M50.4 325.1H45.7M50.4 307.25H47.5M50.4 521.45V526.15M66.85 521.45V524.35M83.3 521.45V526.15M99.75 521.45V524.35M116.2 521.45V526.15M132.65 521.45V524.35M149.1 521.45V526.15M165.55 521.45V524.35M182 521.45V526.15M198.45 521.45V524.35M214.9 521.45V526.15M231.35 521.45V524.35M247.8 521.45V526.15M264.25 521.45V524.35M280.7 521.45V526.15M297.15 521.45V524.35M313.6 521.45V526.15" stroke="#000" stroke-width="1.6" fill="none"/>
<g font-size="12.2" fill="#000">
<text transform="translate(44.4 506.9) scale(0.93 1)" text-anchor="end">0.0</text>
<text transform="translate(44.4 471.2) scale(0.93 1)" text-anchor="end">0.2</text>
<text transform="translate(44.4 435.5) scale(0.93 1)" text-anchor="end">0.4</text>
<text transform="translate(44.4 399.8) scale(0.93 1)" text-anchor="end">0.6</text>
<text transform="translate(44.4 364.1) scale(0.93 1)" text-anchor="end">0.8</text>
<text transform="translate(44.4 328.4) scale(0.93 1)" text-anchor="end">1.0</text>
<text transform="translate(50.7 536.75) scale(0.93 1)" text-anchor="middle">0.0</text>
<text transform="translate(83.6 536.75) scale(0.93 1)" text-anchor="middle">0.5</text>
<text transform="translate(116.5 536.75) scale(0.93 1)" text-anchor="middle">1.0</text>
<text transform="translate(149.4 536.75) scale(0.93 1)" text-anchor="middle">1.5</text>
<text transform="translate(182.3 536.75) scale(0.93 1)" text-anchor="middle">2.0</text>
<text transform="translate(215.2 536.75) scale(0.93 1)" text-anchor="middle">2.5</text>
<text transform="translate(248.1 536.75) scale(0.93 1)" text-anchor="middle">3.0</text>
<text transform="translate(281 536.75) scale(0.93 1)" text-anchor="middle">3.5</text>
<text transform="translate(313.9 536.75) scale(0.93 1)" text-anchor="middle">4.0</text>
</g>
<rect x="107" y="463.3" width="88.6" height="38.1" fill="#fff" stroke="#444" stroke-width="1.3"/>
<path d="M123.2 471.1h2.8v2.8h-2.8z" fill="#000"/>
<path d="M123 483.6a1.6 1.6 0 1 0 3.2 0a1.6 1.6 0 1 0 -3.2 0z" fill="#f00"/>
<path d="M124.6 492.47l1.8 2.88h-3.6z" fill="#00f"/>
<text x="135" y="476.1" font-size="10.5" textLength="55.5" lengthAdjust="spacingAndGlyphs">Instantaneous</text>
<text x="137.7" y="487.2" font-size="10.5" textLength="46.3" lengthAdjust="spacingAndGlyphs">Progressive</text>
<text x="137.3" y="497.8" font-size="10.5" textLength="23.9" lengthAdjust="spacingAndGlyphs">-1.1 V</text>
<text transform="translate(17.7 412.1) rotate(-90)" text-anchor="middle" font-size="14" textLength="42.5" lengthAdjust="spacingAndGlyphs">(I<tspan dy="-6">2</tspan><tspan dy="6">/I</tspan><tspan dy="-6">2</tspan><tspan dy="6">m</tspan>)</text>
<text x="171.6" y="556.2" font-size="14.2" textLength="21.6" lengthAdjust="spacingAndGlyphs">t/t<tspan dy="4.2">m</tspan></text>
<text transform="translate(356.8 294.8) scale(1.0 1)" font-size="20.5" style="stroke-width:0.35px">D</text>
<path d="M410.02 505.45h2.8v2.8h-2.8zM411.83 490.37h2.8v2.8h-2.8zM413.65 476.3h2.8v2.8h-2.8zM415.47 463.19h2.8v2.8h-2.8zM417.28 450.98h2.8v2.8h-2.8zM419.1 439.62h2.8v2.8h-2.8zM420.92 429.05h2.8v2.8h-2.8zM422.74 419.24h2.8v2.8h-2.8zM424.55 410.13h2.8v2.8h-2.8zM426.37 401.68h2.8v2.8h-2.8zM428.19 393.86h2.8v2.8h-2.8zM430 386.63h2.8v2.8h-2.8zM431.82 379.95h2.8v2.8h-2.8zM433.64 373.79h2.8v2.8h-2.8zM435.45 368.12h2.8v2.8h-2.8zM437.27 362.92h2.8v2.8h-2.8zM439.09 358.14h2.8v2.8h-2.8zM440.91 353.77h2.8v2.8h-2.8zM442.72 349.79h2.8v2.8h-2.8zM444.54 346.16h2.8v2.8h-2.8zM446.36 342.87h2.8v2.8h-2.8zM448.17 339.9h2.8v2.8h-2.8zM449.99 337.23h2.8v2.8h-2.8zM451.81 334.83h2.8v2.8h-2.8zM453.62 332.7h2.8v2.8h-2.8zM455.44 330.81h2.8v2.8h-2.8zM457.26 329.15h2.8v2.8h-2.8zM459.07 327.71h2.8v2.8h-2.8zM460.89 326.47h2.8v2.8h-2.8zM462.71 325.41h2.8v2.8h-2.8zM464.53 324.54h2.8v2.8h-2.8zM466.34 323.83h2.8v2.8h-2.8zM468.16 323.28h2.8v2.8h-2.8zM469.98 322.87h2.8v2.8h-2.8zM471.79 322.59h2.8v2.8h-2.8zM473.61 322.45h2.8v2.8h-2.8zM475.43 322.42h2.8v2.8h-2.8zM477.24 322.49h2.8v2.8h-2.8zM479.06 322.68h2.8v2.8h-2.8zM480.88 322.95h2.8v2.8h-2.8zM482.7 323.32h2.8v2.8h-2.8zM484.51 323.77h2.8v2.8h-2.8zM486.33 324.29h2.8v2.8h-2.8zM488.15 324.88h2.8v2.8h-2.8zM489.96 325.54h2.8v2.8h-2.8zM491.78 326.26h2.8v2.8h-2.8zM493.6 327.04h2.8v2.8h-2.8zM495.41 327.86h2.8v2.8h-2.8zM497.23 328.74h2.8v2.8h-2.8zM499.05 329.65h2.8v2.8h-2.8zM500.86 330.61h2.8v2.8h-2.8zM502.68 331.6h2.8v2.8h-2.8zM504.5 332.63h2.8v2.8h-2.8zM506.32 333.69h2.8v2.8h-2.8zM508.13 334.77h2.8v2.8h-2.8zM509.95 335.88h2.8v2.8h-2.8zM511.77 337.01h2.8v2.8h-2.8zM513.58 338.16h2.8v2.8h-2.8zM515.4 339.33h2.8v2.8h-2.8zM517.22 340.51h2.8v2.8h-2.8zM519.03 341.71h2.8v2.8h-2.8zM520.85 342.91h2.8v2.8h-2.8zM522.67 344.13h2.8v2.8h-2.8zM524.49 345.36h2.8v2.8h-2.8zM526.3 346.59h2.8v2.8h-2.8zM528.12 347.83h2.8v2.8h-2.8zM529.94 349.08h2.8v2.8h-2.8zM531.75 350.33h2.8v2.8h-2.8zM533.57 351.57h2.8v2.8h-2.8zM535.39 352.82h2.8v2.8h-2.8zM537.2 354.07h2.8v2.8h-2.8zM539.02 355.32h2.8v2.8h-2.8zM540.84 356.57h2.8v2.8h-2.8zM542.66 357.82h2.8v2.8h-2.8zM544.47 359.06h2.8v2.8h-2.8zM546.29 360.29h2.8v2.8h-2.8zM548.11 361.53h2.8v2.8h-2.8zM549.92 362.76h2.8v2.8h-2.8zM551.74 363.98h2.8v2.8h-2.8zM553.56 365.19h2.8v2.8h-2.8zM555.37 366.4h2.8v2.8h-2.8zM557.19 367.6h2.8v2.8h-2.8zM559.01 368.8h2.8v2.8h-2.8zM560.82 369.98h2.8v2.8h-2.8zM562.64 371.16h2.8v2.8h-2.8zM564.46 372.33h2.8v2.8h-2.8zM566.28 373.49h2.8v2.8h-2.8zM568.09 374.65h2.8v2.8h-2.8zM569.91 375.79h2.8v2.8h-2.8zM571.73 376.92h2.8v2.8h-2.8zM573.54 378.05h2.8v2.8h-2.8zM575.36 379.16h2.8v2.8h-2.8zM577.18 380.27h2.8v2.8h-2.8zM578.99 381.36h2.8v2.8h-2.8zM580.81 382.45h2.8v2.8h-2.8zM582.63 383.52h2.8v2.8h-2.8zM584.45 384.59h2.8v2.8h-2.8zM586.26 385.64h2.8v2.8h-2.8zM588.08 386.68h2.8v2.8h-2.8zM589.9 387.72h2.8v2.8h-2.8zM591.71 388.74h2.8v2.8h-2.8zM593.53 389.75h2.8v2.8h-2.8zM595.35 390.76h2.8v2.8h-2.8zM597.16 391.75h2.8v2.8h-2.8zM598.98 392.73h2.8v2.8h-2.8zM600.8 393.7h2.8v2.8h-2.8zM602.61 394.66h2.8v2.8h-2.8zM604.43 395.62h2.8v2.8h-2.8zM606.25 396.56h2.8v2.8h-2.8zM608.07 397.49h2.8v2.8h-2.8zM609.88 398.41h2.8v2.8h-2.8zM611.7 399.32h2.8v2.8h-2.8zM613.52 400.22h2.8v2.8h-2.8zM615.33 401.11h2.8v2.8h-2.8zM617.15 401.99h2.8v2.8h-2.8zM618.97 402.86h2.8v2.8h-2.8zM620.78 403.73h2.8v2.8h-2.8zM622.6 404.58h2.8v2.8h-2.8zM624.42 405.42h2.8v2.8h-2.8zM626.24 406.25h2.8v2.8h-2.8zM628.05 407.08h2.8v2.8h-2.8zM629.87 407.89h2.8v2.8h-2.8zM631.69 408.7h2.8v2.8h-2.8zM633.5 409.49h2.8v2.8h-2.8zM635.32 410.28h2.8v2.8h-2.8zM637.14 411.06h2.8v2.8h-2.8zM638.95 411.83h2.8v2.8h-2.8zM640.77 412.59h2.8v2.8h-2.8zM642.59 413.34h2.8v2.8h-2.8zM644.4 414.09h2.8v2.8h-2.8zM646.22 414.82h2.8v2.8h-2.8zM648.04 415.55h2.8v2.8h-2.8zM649.86 416.27h2.8v2.8h-2.8zM651.67 416.98h2.8v2.8h-2.8zM653.49 417.68h2.8v2.8h-2.8zM655.31 418.37h2.8v2.8h-2.8zM657.12 419.06h2.8v2.8h-2.8zM658.94 419.74h2.8v2.8h-2.8zM660.76 420.41h2.8v2.8h-2.8zM662.57 421.08h2.8v2.8h-2.8zM664.39 421.73h2.8v2.8h-2.8zM666.21 422.38h2.8v2.8h-2.8zM668.03 423.02h2.8v2.8h-2.8zM669.84 423.66h2.8v2.8h-2.8zM671.66 424.29h2.8v2.8h-2.8zM673.48 424.91h2.8v2.8h-2.8zM675.29 425.52h2.8v2.8h-2.8z" fill="#000"/>
<path d="M408 523a1.6 1.6 0 1 0 3.2 0a1.6 1.6 0 1 0 -3.2 0zM409.48 522.99a1.6 1.6 0 1 0 3.2 0a1.6 1.6 0 1 0 -3.2 0zM411.3 522.84a1.6 1.6 0 1 0 3.2 0a1.6 1.6 0 1 0 -3.2 0zM413.12 522.41a1.6 1.6 0 1 0 3.2 0a1.6 1.6 0 1 0 -3.2 0zM414.93 521.55a1.6 1.6 0 1 0 3.2 0a1.6 1.6 0 1 0 -3.2 0zM416.75 520.12a1.6 1.6 0 1 0 3.2 0a1.6 1.6 0 1 0 -3.2 0zM418.57 518.02a1.6 1.6 0 1 0 3.2 0a1.6 1.6 0 1 0 -3.2 0zM420.38 515.16a1.6 1.6 0 1 0 3.2 0a1.6 1.6 0 1 0 -3.2 0zM422.2 511.47a1.6 1.6 0 1 0 3.2 0a1.6 1.6 0 1 0 -3.2 0zM424.02 506.91a1.6 1.6 0 1 0 3.2 0a1.6 1.6 0 1 0 -3.2 0zM425.84 501.47a1.6 1.6 0 1 0 3.2 0a1.6 1.6 0 1 0 -3.2 0zM427.65 495.18a1.6 1.6 0 1 0 3.2 0a1.6 1.6 0 1 0 -3.2 0zM429.47 488.07a1.6 1.6 0 1 0 3.2 0a1.6 1.6 0 1 0 -3.2 0zM431.29 480.21a1.6 1.6 0 1 0 3.2 0a1.6 1.6 0 1 0 -3.2 0zM433.1 471.68a1.6 1.6 0 1 0 3.2 0a1.6 1.6 0 1 0 -3.2 0zM434.92 462.59a1.6 1.6 0 1 0 3.2 0a1.6 1.6 0 1 0 -3.2 0zM436.74 453.06a1.6 1.6 0 1 0 3.2 0a1.6 1.6 0 1 0 -3.2 0zM438.55 443.2a1.6 1.6 0 1 0 3.2 0a1.6 1.6 0 1 0 -3.2 0zM440.37 433.16a1.6 1.6 0 1 0 3.2 0a1.6 1.6 0 1 0 -3.2 0zM442.19 423.05a1.6 1.6 0 1 0 3.2 0a1.6 1.6 0 1 0 -3.2 0zM444.01 413.02a1.6 1.6 0 1 0 3.2 0a1.6 1.6 0 1 0 -3.2 0zM445.82 403.17a1.6 1.6 0 1 0 3.2 0a1.6 1.6 0 1 0 -3.2 0zM447.64 393.63a1.6 1.6 0 1 0 3.2 0a1.6 1.6 0 1 0 -3.2 0zM449.46 384.49a1.6 1.6 0 1 0 3.2 0a1.6 1.6 0 1 0 -3.2 0zM451.27 375.85a1.6 1.6 0 1 0 3.2 0a1.6 1.6 0 1 0 -3.2 0zM453.09 367.78a1.6 1.6 0 1 0 3.2 0a1.6 1.6 0 1 0 -3.2 0zM454.91 360.34a1.6 1.6 0 1 0 3.2 0a1.6 1.6 0 1 0 -3.2 0zM456.72 353.57a1.6 1.6 0 1 0 3.2 0a1.6 1.6 0 1 0 -3.2 0zM458.54 347.51a1.6 1.6 0 1 0 3.2 0a1.6 1.6 0 1 0 -3.2 0zM460.36 342.16a1.6 1.6 0 1 0 3.2 0a1.6 1.6 0 1 0 -3.2 0zM462.17 337.55a1.6 1.6 0 1 0 3.2 0a1.6 1.6 0 1 0 -3.2 0zM463.99 333.65a1.6 1.6 0 1 0 3.2 0a1.6 1.6 0 1 0 -3.2 0zM465.81 330.45a1.6 1.6 0 1 0 3.2 0a1.6 1.6 0 1 0 -3.2 0zM467.63 327.92a1.6 1.6 0 1 0 3.2 0a1.6 1.6 0 1 0 -3.2 0zM469.44 326.03a1.6 1.6 0 1 0 3.2 0a1.6 1.6 0 1 0 -3.2 0zM471.26 324.75a1.6 1.6 0 1 0 3.2 0a1.6 1.6 0 1 0 -3.2 0zM473.08 324.02a1.6 1.6 0 1 0 3.2 0a1.6 1.6 0 1 0 -3.2 0zM474.89 323.8a1.6 1.6 0 1 0 3.2 0a1.6 1.6 0 1 0 -3.2 0zM476.71 324.05a1.6 1.6 0 1 0 3.2 0a1.6 1.6 0 1 0 -3.2 0zM478.53 324.72a1.6 1.6 0 1 0 3.2 0a1.6 1.6 0 1 0 -3.2 0zM480.34 325.76a1.6 1.6 0 1 0 3.2 0a1.6 1.6 0 1 0 -3.2 0zM482.16 327.12a1.6 1.6 0 1 0 3.2 0a1.6 1.6 0 1 0 -3.2 0zM483.98 328.77a1.6 1.6 0 1 0 3.2 0a1.6 1.6 0 1 0 -3.2 0zM485.8 330.65a1.6 1.6 0 1 0 3.2 0a1.6 1.6 0 1 0 -3.2 0zM487.61 332.74a1.6 1.6 0 1 0 3.2 0a1.6 1.6 0 1 0 -3.2 0zM489.43 335a1.6 1.6 0 1 0 3.2 0a1.6 1.6 0 1 0 -3.2 0zM491.25 337.39a1.6 1.6 0 1 0 3.2 0a1.6 1.6 0 1 0 -3.2 0zM493.06 339.88a1.6 1.6 0 1 0 3.2 0a1.6 1.6 0 1 0 -3.2 0zM494.88 342.46a1.6 1.6 0 1 0 3.2 0a1.6 1.6 0 1 0 -3.2 0zM496.7 345.09a1.6 1.6 0 1 0 3.2 0a1.6 1.6 0 1 0 -3.2 0zM498.51 347.76a1.6 1.6 0 1 0 3.2 0a1.6 1.6 0 1 0 -3.2 0zM500.33 350.44a1.6 1.6 0 1 0 3.2 0a1.6 1.6 0 1 0 -3.2 0zM502.15 353.13a1.6 1.6 0 1 0 3.2 0a1.6 1.6 0 1 0 -3.2 0zM503.96 355.81a1.6 1.6 0 1 0 3.2 0a1.6 1.6 0 1 0 -3.2 0zM505.78 358.47a1.6 1.6 0 1 0 3.2 0a1.6 1.6 0 1 0 -3.2 0zM507.6 361.1a1.6 1.6 0 1 0 3.2 0a1.6 1.6 0 1 0 -3.2 0zM509.42 363.69a1.6 1.6 0 1 0 3.2 0a1.6 1.6 0 1 0 -3.2 0zM511.23 366.24a1.6 1.6 0 1 0 3.2 0a1.6 1.6 0 1 0 -3.2 0zM513.05 368.74a1.6 1.6 0 1 0 3.2 0a1.6 1.6 0 1 0 -3.2 0zM514.87 371.19a1.6 1.6 0 1 0 3.2 0a1.6 1.6 0 1 0 -3.2 0zM516.68 373.59a1.6 1.6 0 1 0 3.2 0a1.6 1.6 0 1 0 -3.2 0zM518.5 375.93a1.6 1.6 0 1 0 3.2 0a1.6 1.6 0 1 0 -3.2 0zM520.32 378.22a1.6 1.6 0 1 0 3.2 0a1.6 1.6 0 1 0 -3.2 0zM522.13 380.45a1.6 1.6 0 1 0 3.2 0a1.6 1.6 0 1 0 -3.2 0zM523.95 382.62a1.6 1.6 0 1 0 3.2 0a1.6 1.6 0 1 0 -3.2 0zM525.77 384.74a1.6 1.6 0 1 0 3.2 0a1.6 1.6 0 1 0 -3.2 0zM527.59 386.8a1.6 1.6 0 1 0 3.2 0a1.6 1.6 0 1 0 -3.2 0zM529.4 388.81a1.6 1.6 0 1 0 3.2 0a1.6 1.6 0 1 0 -3.2 0zM531.22 390.76a1.6 1.6 0 1 0 3.2 0a1.6 1.6 0 1 0 -3.2 0zM533.04 392.66a1.6 1.6 0 1 0 3.2 0a1.6 1.6 0 1 0 -3.2 0zM534.85 394.52a1.6 1.6 0 1 0 3.2 0a1.6 1.6 0 1 0 -3.2 0zM536.67 396.32a1.6 1.6 0 1 0 3.2 0a1.6 1.6 0 1 0 -3.2 0zM538.49 398.07a1.6 1.6 0 1 0 3.2 0a1.6 1.6 0 1 0 -3.2 0zM540.3 399.78a1.6 1.6 0 1 0 3.2 0a1.6 1.6 0 1 0 -3.2 0zM542.12 401.44a1.6 1.6 0 1 0 3.2 0a1.6 1.6 0 1 0 -3.2 0zM543.94 403.06a1.6 1.6 0 1 0 3.2 0a1.6 1.6 0 1 0 -3.2 0zM545.75 404.64a1.6 1.6 0 1 0 3.2 0a1.6 1.6 0 1 0 -3.2 0zM547.57 406.18a1.6 1.6 0 1 0 3.2 0a1.6 1.6 0 1 0 -3.2 0zM549.39 407.68a1.6 1.6 0 1 0 3.2 0a1.6 1.6 0 1 0 -3.2 0zM551.21 409.14a1.6 1.6 0 1 0 3.2 0a1.6 1.6 0 1 0 -3.2 0zM553.02 410.57a1.6 1.6 0 1 0 3.2 0a1.6 1.6 0 1 0 -3.2 0zM554.84 411.96a1.6 1.6 0 1 0 3.2 0a1.6 1.6 0 1 0 -3.2 0zM556.66 413.31a1.6 1.6 0 1 0 3.2 0a1.6 1.6 0 1 0 -3.2 0zM558.47 414.64a1.6 1.6 0 1 0 3.2 0a1.6 1.6 0 1 0 -3.2 0zM560.29 415.93a1.6 1.6 0 1 0 3.2 0a1.6 1.6 0 1 0 -3.2 0zM562.11 417.19a1.6 1.6 0 1 0 3.2 0a1.6 1.6 0 1 0 -3.2 0zM563.92 418.43a1.6 1.6 0 1 0 3.2 0a1.6 1.6 0 1 0 -3.2 0zM565.74 419.63a1.6 1.6 0 1 0 3.2 0a1.6 1.6 0 1 0 -3.2 0zM567.56 420.81a1.6 1.6 0 1 0 3.2 0a1.6 1.6 0 1 0 -3.2 0zM569.38 421.96a1.6 1.6 0 1 0 3.2 0a1.6 1.6 0 1 0 -3.2 0zM571.19 423.08a1.6 1.6 0 1 0 3.2 0a1.6 1.6 0 1 0 -3.2 0zM573.01 424.18a1.6 1.6 0 1 0 3.2 0a1.6 1.6 0 1 0 -3.2 0zM574.83 425.26a1.6 1.6 0 1 0 3.2 0a1.6 1.6 0 1 0 -3.2 0zM576.64 426.31a1.6 1.6 0 1 0 3.2 0a1.6 1.6 0 1 0 -3.2 0zM578.46 427.34a1.6 1.6 0 1 0 3.2 0a1.6 1.6 0 1 0 -3.2 0zM580.28 428.35a1.6 1.6 0 1 0 3.2 0a1.6 1.6 0 1 0 -3.2 0zM582.09 429.34a1.6 1.6 0 1 0 3.2 0a1.6 1.6 0 1 0 -3.2 0zM583.91 430.31a1.6 1.6 0 1 0 3.2 0a1.6 1.6 0 1 0 -3.2 0zM585.73 431.25a1.6 1.6 0 1 0 3.2 0a1.6 1.6 0 1 0 -3.2 0zM587.55 432.18a1.6 1.6 0 1 0 3.2 0a1.6 1.6 0 1 0 -3.2 0zM589.36 433.09a1.6 1.6 0 1 0 3.2 0a1.6 1.6 0 1 0 -3.2 0zM591.18 433.98a1.6 1.6 0 1 0 3.2 0a1.6 1.6 0 1 0 -3.2 0zM593 434.86a1.6 1.6 0 1 0 3.2 0a1.6 1.6 0 1 0 -3.2 0zM594.81 435.72a1.6 1.6 0 1 0 3.2 0a1.6 1.6 0 1 0 -3.2 0zM596.63 436.56a1.6 1.6 0 1 0 3.2 0a1.6 1.6 0 1 0 -3.2 0zM598.45 437.38a1.6 1.6 0 1 0 3.2 0a1.6 1.6 0 1 0 -3.2 0zM600.26 438.19a1.6 1.6 0 1 0 3.2 0a1.6 1.6 0 1 0 -3.2 0zM602.08 438.98a1.6 1.6 0 1 0 3.2 0a1.6 1.6 0 1 0 -3.2 0zM603.9 439.76a1.6 1.6 0 1 0 3.2 0a1.6 1.6 0 1 0 -3.2 0zM605.71 440.53a1.6 1.6 0 1 0 3.2 0a1.6 1.6 0 1 0 -3.2 0zM607.53 441.28a1.6 1.6 0 1 0 3.2 0a1.6 1.6 0 1 0 -3.2 0zM609.35 442.02a1.6 1.6 0 1 0 3.2 0a1.6 1.6 0 1 0 -3.2 0zM611.17 442.74a1.6 1.6 0 1 0 3.2 0a1.6 1.6 0 1 0 -3.2 0zM612.98 443.45a1.6 1.6 0 1 0 3.2 0a1.6 1.6 0 1 0 -3.2 0zM614.8 444.15a1.6 1.6 0 1 0 3.2 0a1.6 1.6 0 1 0 -3.2 0zM616.62 444.84a1.6 1.6 0 1 0 3.2 0a1.6 1.6 0 1 0 -3.2 0zM618.43 445.51a1.6 1.6 0 1 0 3.2 0a1.6 1.6 0 1 0 -3.2 0zM620.25 446.18a1.6 1.6 0 1 0 3.2 0a1.6 1.6 0 1 0 -3.2 0zM622.07 446.83a1.6 1.6 0 1 0 3.2 0a1.6 1.6 0 1 0 -3.2 0zM623.88 447.47a1.6 1.6 0 1 0 3.2 0a1.6 1.6 0 1 0 -3.2 0zM625.7 448.1a1.6 1.6 0 1 0 3.2 0a1.6 1.6 0 1 0 -3.2 0zM627.52 448.72a1.6 1.6 0 1 0 3.2 0a1.6 1.6 0 1 0 -3.2 0zM629.34 449.33a1.6 1.6 0 1 0 3.2 0a1.6 1.6 0 1 0 -3.2 0zM631.15 449.93a1.6 1.6 0 1 0 3.2 0a1.6 1.6 0 1 0 -3.2 0zM632.97 450.52a1.6 1.6 0 1 0 3.2 0a1.6 1.6 0 1 0 -3.2 0zM634.79 451.1a1.6 1.6 0 1 0 3.2 0a1.6 1.6 0 1 0 -3.2 0zM636.6 451.67a1.6 1.6 0 1 0 3.2 0a1.6 1.6 0 1 0 -3.2 0zM638.42 452.23a1.6 1.6 0 1 0 3.2 0a1.6 1.6 0 1 0 -3.2 0zM640.24 452.79a1.6 1.6 0 1 0 3.2 0a1.6 1.6 0 1 0 -3.2 0zM642.05 453.33a1.6 1.6 0 1 0 3.2 0a1.6 1.6 0 1 0 -3.2 0zM643.87 453.87a1.6 1.6 0 1 0 3.2 0a1.6 1.6 0 1 0 -3.2 0zM645.69 454.4a1.6 1.6 0 1 0 3.2 0a1.6 1.6 0 1 0 -3.2 0zM647.5 454.92a1.6 1.6 0 1 0 3.2 0a1.6 1.6 0 1 0 -3.2 0zM649.32 455.43a1.6 1.6 0 1 0 3.2 0a1.6 1.6 0 1 0 -3.2 0zM651.14 455.94a1.6 1.6 0 1 0 3.2 0a1.6 1.6 0 1 0 -3.2 0zM652.96 456.43a1.6 1.6 0 1 0 3.2 0a1.6 1.6 0 1 0 -3.2 0zM654.77 456.92a1.6 1.6 0 1 0 3.2 0a1.6 1.6 0 1 0 -3.2 0zM656.59 457.41a1.6 1.6 0 1 0 3.2 0a1.6 1.6 0 1 0 -3.2 0zM658.41 457.88a1.6 1.6 0 1 0 3.2 0a1.6 1.6 0 1 0 -3.2 0zM660.22 458.35a1.6 1.6 0 1 0 3.2 0a1.6 1.6 0 1 0 -3.2 0zM662.04 458.81a1.6 1.6 0 1 0 3.2 0a1.6 1.6 0 1 0 -3.2 0zM663.86 459.27a1.6 1.6 0 1 0 3.2 0a1.6 1.6 0 1 0 -3.2 0zM665.67 459.72a1.6 1.6 0 1 0 3.2 0a1.6 1.6 0 1 0 -3.2 0zM667.49 460.16a1.6 1.6 0 1 0 3.2 0a1.6 1.6 0 1 0 -3.2 0zM669.31 460.6a1.6 1.6 0 1 0 3.2 0a1.6 1.6 0 1 0 -3.2 0zM671.13 461.03a1.6 1.6 0 1 0 3.2 0a1.6 1.6 0 1 0 -3.2 0zM672.94 461.46a1.6 1.6 0 1 0 3.2 0a1.6 1.6 0 1 0 -3.2 0zM674.76 461.87a1.6 1.6 0 1 0 3.2 0a1.6 1.6 0 1 0 -3.2 0z" fill="#f00"/>
<path d="M411.2 507.99l2.15 3.44h-4.3zM413.02 503.37l2.15 3.44h-4.3zM414.84 496.76l2.15 3.44h-4.3zM416.65 492.69l2.15 3.44h-4.3zM418.47 486.13l2.15 3.44h-4.3zM420.29 477.11l2.15 3.44h-4.3zM422.1 460.33l2.15 3.44h-4.3zM423.92 438.22l2.15 3.44h-4.3zM425.74 409.84l2.15 3.44h-4.3zM427.56 382.39l2.15 3.44h-4.3zM429.37 370.74l2.15 3.44h-4.3zM431.19 374.15l2.15 3.44h-4.3zM433.01 388.64l2.15 3.44h-4.3zM434.82 403.3l2.15 3.44h-4.3zM436.64 414.86l2.15 3.44h-4.3zM438.46 420.22l2.15 3.44h-4.3zM440.27 422.64l2.15 3.44h-4.3zM442.09 422.88l2.15 3.44h-4.3zM443.91 422.07l2.15 3.44h-4.3zM445.73 420.07l2.15 3.44h-4.3zM447.54 417.44l2.15 3.44h-4.3zM449.36 414.05l2.15 3.44h-4.3zM451.18 409.32l2.15 3.44h-4.3zM452.99 403.36l2.15 3.44h-4.3zM454.81 396.79l2.15 3.44h-4.3zM456.63 389.22l2.15 3.44h-4.3zM458.44 381.12l2.15 3.44h-4.3zM460.26 370.47l2.15 3.44h-4.3zM462.08 362.05l2.15 3.44h-4.3zM463.9 351.75l2.15 3.44h-4.3zM465.71 343.13l2.15 3.44h-4.3zM467.53 335.8l2.15 3.44h-4.3zM469.35 330.33l2.15 3.44h-4.3zM471.16 326.17l2.15 3.44h-4.3zM472.98 323.07l2.15 3.44h-4.3zM474.8 321.56l2.15 3.44h-4.3zM476.61 322.22l2.15 3.44h-4.3zM478.43 324.02l2.15 3.44h-4.3zM480.25 326.32l2.15 3.44h-4.3zM482.06 329.01l2.15 3.44h-4.3zM483.88 332.48l2.15 3.44h-4.3zM485.7 335.89l2.15 3.44h-4.3zM487.52 338.71l2.15 3.44h-4.3zM489.33 341.28l2.15 3.44h-4.3zM491.15 343.79l2.15 3.44h-4.3zM492.97 346.19l2.15 3.44h-4.3zM494.78 348.34l2.15 3.44h-4.3zM496.6 350.28l2.15 3.44h-4.3zM498.42 352.06l2.15 3.44h-4.3zM500.23 353.68l2.15 3.44h-4.3zM502.05 355.17l2.15 3.44h-4.3zM503.87 356.55l2.15 3.44h-4.3zM505.69 357.83l2.15 3.44h-4.3zM507.5 359.06l2.15 3.44h-4.3zM509.32 360.28l2.15 3.44h-4.3zM511.14 361.46l2.15 3.44h-4.3zM512.95 362.5l2.15 3.44h-4.3zM514.77 363.31l2.15 3.44h-4.3zM516.59 363.98l2.15 3.44h-4.3zM518.4 364.58l2.15 3.44h-4.3zM520.22 365.07l2.15 3.44h-4.3zM522.04 365.46l2.15 3.44h-4.3zM523.85 365.75l2.15 3.44h-4.3zM525.67 365.99l2.15 3.44h-4.3zM527.49 366.21l2.15 3.44h-4.3zM529.31 366.4l2.15 3.44h-4.3zM531.12 366.55l2.15 3.44h-4.3zM532.94 366.68l2.15 3.44h-4.3zM534.76 366.78l2.15 3.44h-4.3zM536.57 366.86l2.15 3.44h-4.3zM538.39 366.93l2.15 3.44h-4.3zM540.21 366.98l2.15 3.44h-4.3zM542.02 367.04l2.15 3.44h-4.3zM543.84 367.1l2.15 3.44h-4.3zM545.66 367.17l2.15 3.44h-4.3zM547.48 367.26l2.15 3.44h-4.3zM549.29 367.35l2.15 3.44h-4.3zM551.11 367.44l2.15 3.44h-4.3zM552.93 367.54l2.15 3.44h-4.3zM554.74 367.65l2.15 3.44h-4.3zM556.56 367.77l2.15 3.44h-4.3zM558.38 367.91l2.15 3.44h-4.3zM560.19 368.05l2.15 3.44h-4.3zM562.01 368.22l2.15 3.44h-4.3zM563.83 368.43l2.15 3.44h-4.3zM565.64 368.7l2.15 3.44h-4.3zM567.46 369l2.15 3.44h-4.3zM569.28 369.32l2.15 3.44h-4.3zM571.1 369.66l2.15 3.44h-4.3zM572.91 370l2.15 3.44h-4.3zM574.73 370.32l2.15 3.44h-4.3zM576.55 370.62l2.15 3.44h-4.3zM578.36 370.89l2.15 3.44h-4.3zM580.18 371.14l2.15 3.44h-4.3zM582 371.37l2.15 3.44h-4.3zM583.81 371.6l2.15 3.44h-4.3zM585.63 371.83l2.15 3.44h-4.3zM587.45 372.06l2.15 3.44h-4.3zM589.27 372.29l2.15 3.44h-4.3zM591.08 372.55l2.15 3.44h-4.3zM592.9 372.81l2.15 3.44h-4.3zM594.72 373.11l2.15 3.44h-4.3zM596.53 373.42l2.15 3.44h-4.3zM598.35 373.76l2.15 3.44h-4.3zM600.17 374.11l2.15 3.44h-4.3zM601.98 374.48l2.15 3.44h-4.3zM603.8 374.86l2.15 3.44h-4.3zM605.62 375.24l2.15 3.44h-4.3zM607.43 375.63l2.15 3.44h-4.3zM609.25 376.02l2.15 3.44h-4.3zM611.07 376.41l2.15 3.44h-4.3zM612.89 376.83l2.15 3.44h-4.3zM614.7 377.26l2.15 3.44h-4.3zM616.52 377.72l2.15 3.44h-4.3zM618.34 378.21l2.15 3.44h-4.3zM620.15 378.76l2.15 3.44h-4.3zM621.97 379.4l2.15 3.44h-4.3zM623.79 380.07l2.15 3.44h-4.3zM625.6 380.73l2.15 3.44h-4.3zM627.42 381.33l2.15 3.44h-4.3zM629.24 381.93l2.15 3.44h-4.3zM631.06 382.51l2.15 3.44h-4.3zM632.87 383.04l2.15 3.44h-4.3zM634.69 383.48l2.15 3.44h-4.3zM636.51 383.85l2.15 3.44h-4.3zM638.32 384.18l2.15 3.44h-4.3zM640.14 384.48l2.15 3.44h-4.3zM641.96 384.76l2.15 3.44h-4.3zM643.77 385.03l2.15 3.44h-4.3zM645.59 385.29l2.15 3.44h-4.3zM647.41 385.55l2.15 3.44h-4.3zM649.22 385.79l2.15 3.44h-4.3zM651.04 386.01l2.15 3.44h-4.3zM652.86 386.22l2.15 3.44h-4.3zM654.68 386.44l2.15 3.44h-4.3zM656.49 386.67l2.15 3.44h-4.3zM658.31 386.94l2.15 3.44h-4.3zM660.13 387.24l2.15 3.44h-4.3zM661.94 387.59l2.15 3.44h-4.3zM663.76 387.98l2.15 3.44h-4.3zM665.58 388.4l2.15 3.44h-4.3zM667.39 388.85l2.15 3.44h-4.3zM669.21 389.34l2.15 3.44h-4.3zM671.03 389.88l2.15 3.44h-4.3zM672.85 390.46l2.15 3.44h-4.3zM674.66 391.08l2.15 3.44h-4.3zM676.48 391.73l2.15 3.44h-4.3z" fill="#00f"/>
<path d="M409.6 523.9V303.88M408.7 523H677.7" stroke="#000" stroke-width="1.8" fill="none"/>
<path d="M409.6 523H404.9M409.6 503.08H406.7M409.6 483.16H404.9M409.6 463.24H406.7M409.6 443.32H404.9M409.6 423.4H406.7M409.6 403.48H404.9M409.6 383.56H406.7M409.6 363.64H404.9M409.6 343.72H406.7M409.6 323.8H404.9M409.6 523V527.7M426.3 523V525.9M443 523V527.7M459.7 523V525.9M476.4 523V527.7M493.1 523V525.9M509.8 523V527.7M526.5 523V525.9M543.2 523V527.7M559.9 523V525.9M576.6 523V527.7M593.3 523V525.9M610 523V527.7M626.7 523V525.9M643.4 523V527.7M660.1 523V525.9M676.8 523V527.7" stroke="#000" stroke-width="1.6" fill="none"/>
<g font-size="12.2" fill="#000">
<text transform="translate(403.6 526.3) scale(0.93 1)" text-anchor="end">0.0</text>
<text transform="translate(403.6 486.46) scale(0.93 1)" text-anchor="end">0.2</text>
<text transform="translate(403.6 446.62) scale(0.93 1)" text-anchor="end">0.4</text>
<text transform="translate(403.6 406.78) scale(0.93 1)" text-anchor="end">0.6</text>
<text transform="translate(403.6 366.94) scale(0.93 1)" text-anchor="end">0.8</text>
<text transform="translate(403.6 327.1) scale(0.93 1)" text-anchor="end">1.0</text>
<text transform="translate(409.9 538.9) scale(0.93 1)" text-anchor="middle">0.0</text>
<text transform="translate(443.3 538.9) scale(0.93 1)" text-anchor="middle">0.5</text>
<text transform="translate(476.7 538.9) scale(0.93 1)" text-anchor="middle">1.0</text>
<text transform="translate(510.1 538.9) scale(0.93 1)" text-anchor="middle">1.5</text>
<text transform="translate(543.5 538.9) scale(0.93 1)" text-anchor="middle">2.0</text>
<text transform="translate(576.9 538.9) scale(0.93 1)" text-anchor="middle">2.5</text>
<text transform="translate(610.3 538.9) scale(0.93 1)" text-anchor="middle">3.0</text>
<text transform="translate(643.7 538.9) scale(0.93 1)" text-anchor="middle">3.5</text>
<text transform="translate(677.1 538.9) scale(0.93 1)" text-anchor="middle">4.0</text>
</g>
<rect x="465.1" y="469.6" width="92.2" height="38.1" fill="#fff" stroke="#444" stroke-width="1.3"/>
<path d="M481.5 477.4h2.8v2.8h-2.8z" fill="#000"/>
<path d="M481.3 489.7a1.6 1.6 0 1 0 3.2 0a1.6 1.6 0 1 0 -3.2 0z" fill="#f00"/>
<path d="M482.9 498.87l1.8 2.88h-3.6z" fill="#00f"/>
<text x="495.8" y="482.3" font-size="10.5" textLength="56.2" lengthAdjust="spacingAndGlyphs">Instantaneous</text>
<text x="495.8" y="493.2" font-size="10.5" textLength="47" lengthAdjust="spacingAndGlyphs">Progressive</text>
<text x="495.8" y="504.1" font-size="10.5" textLength="23.9" lengthAdjust="spacingAndGlyphs">-1.0 V</text>
<text transform="translate(374 412.5) rotate(-90)" text-anchor="middle" font-size="14" textLength="39.5" lengthAdjust="spacingAndGlyphs">I<tspan dy="-7">2</tspan><tspan dy="7">/I</tspan><tspan dy="-7">2</tspan><tspan dy="7">m</tspan>)</text>
<text x="532.7" y="558.5" font-size="14.2" textLength="21.6" lengthAdjust="spacingAndGlyphs">t/t<tspan dy="4.2">m</tspan></text>
<text transform="translate(166.2 587.5) scale(0.71 1)" font-size="20.5" style="stroke-width:0.35px">E</text>
<path d="M214.97 778.86h2.8v2.8h-2.8zM217.24 760.65h2.8v2.8h-2.8zM219.5 743.96h2.8v2.8h-2.8zM221.77 728.68h2.8v2.8h-2.8zM224.04 714.7h2.8v2.8h-2.8zM226.31 701.93h2.8v2.8h-2.8zM228.58 690.28h2.8v2.8h-2.8zM230.84 679.68h2.8v2.8h-2.8zM233.11 670.04h2.8v2.8h-2.8zM235.38 661.3h2.8v2.8h-2.8zM237.65 653.39h2.8v2.8h-2.8zM239.92 646.24h2.8v2.8h-2.8zM242.18 639.81h2.8v2.8h-2.8zM244.45 634.04h2.8v2.8h-2.8zM246.72 628.88h2.8v2.8h-2.8zM248.99 624.29h2.8v2.8h-2.8zM251.26 620.21h2.8v2.8h-2.8zM253.52 616.63h2.8v2.8h-2.8zM255.79 613.49h2.8v2.8h-2.8zM258.06 610.76h2.8v2.8h-2.8zM260.33 608.41h2.8v2.8h-2.8zM262.6 606.42h2.8v2.8h-2.8zM264.86 604.75h2.8v2.8h-2.8zM267.13 603.38h2.8v2.8h-2.8zM269.4 602.28h2.8v2.8h-2.8zM271.67 601.44h2.8v2.8h-2.8zM273.94 600.83h2.8v2.8h-2.8zM276.2 600.44h2.8v2.8h-2.8zM278.47 600.24h2.8v2.8h-2.8zM280.74 600.23h2.8v2.8h-2.8zM283.01 600.38h2.8v2.8h-2.8zM285.28 600.68h2.8v2.8h-2.8zM287.54 601.12h2.8v2.8h-2.8zM289.81 601.68h2.8v2.8h-2.8zM292.08 602.36h2.8v2.8h-2.8zM294.35 603.15h2.8v2.8h-2.8zM296.62 604.03h2.8v2.8h-2.8zM298.88 605h2.8v2.8h-2.8zM301.15 606.04h2.8v2.8h-2.8zM303.42 607.15h2.8v2.8h-2.8zM305.69 608.33h2.8v2.8h-2.8zM307.96 609.56h2.8v2.8h-2.8zM310.22 610.85h2.8v2.8h-2.8zM312.49 612.17h2.8v2.8h-2.8zM314.76 613.54h2.8v2.8h-2.8zM317.03 614.94h2.8v2.8h-2.8zM319.3 616.37h2.8v2.8h-2.8zM321.56 617.83h2.8v2.8h-2.8zM323.83 619.31h2.8v2.8h-2.8zM326.1 620.8h2.8v2.8h-2.8zM328.37 622.31h2.8v2.8h-2.8zM330.63 623.84h2.8v2.8h-2.8zM332.9 625.37h2.8v2.8h-2.8zM335.17 626.91h2.8v2.8h-2.8zM337.44 628.46h2.8v2.8h-2.8zM339.71 630h2.8v2.8h-2.8zM341.97 631.55h2.8v2.8h-2.8zM344.24 633.1h2.8v2.8h-2.8zM346.51 634.64h2.8v2.8h-2.8zM348.78 636.18h2.8v2.8h-2.8zM351.05 637.72h2.8v2.8h-2.8zM353.31 639.24h2.8v2.8h-2.8zM355.58 640.76h2.8v2.8h-2.8zM357.85 642.27h2.8v2.8h-2.8zM360.12 643.77h2.8v2.8h-2.8zM362.39 645.26h2.8v2.8h-2.8zM364.65 646.74h2.8v2.8h-2.8zM366.92 648.21h2.8v2.8h-2.8zM369.19 649.66h2.8v2.8h-2.8zM371.46 651.1h2.8v2.8h-2.8zM373.73 652.52h2.8v2.8h-2.8zM375.99 653.93h2.8v2.8h-2.8zM378.26 655.33h2.8v2.8h-2.8zM380.53 656.71h2.8v2.8h-2.8zM382.8 658.08h2.8v2.8h-2.8zM385.07 659.43h2.8v2.8h-2.8zM387.33 660.77h2.8v2.8h-2.8zM389.6 662.09h2.8v2.8h-2.8zM391.87 663.39h2.8v2.8h-2.8zM394.14 664.68h2.8v2.8h-2.8zM396.41 665.96h2.8v2.8h-2.8zM398.67 667.21h2.8v2.8h-2.8zM400.94 668.45h2.8v2.8h-2.8zM403.21 669.68h2.8v2.8h-2.8zM405.48 670.89h2.8v2.8h-2.8zM407.75 672.08h2.8v2.8h-2.8zM410.01 673.26h2.8v2.8h-2.8zM412.28 674.42h2.8v2.8h-2.8zM414.55 675.57h2.8v2.8h-2.8zM416.82 676.7h2.8v2.8h-2.8zM419.09 677.82h2.8v2.8h-2.8zM421.35 678.92h2.8v2.8h-2.8zM423.62 680.01h2.8v2.8h-2.8zM425.89 681.08h2.8v2.8h-2.8zM428.16 682.13h2.8v2.8h-2.8zM430.43 683.17h2.8v2.8h-2.8zM432.69 684.2h2.8v2.8h-2.8zM434.96 685.21h2.8v2.8h-2.8zM437.23 686.21h2.8v2.8h-2.8zM439.5 687.2h2.8v2.8h-2.8zM441.77 688.17h2.8v2.8h-2.8zM444.03 689.12h2.8v2.8h-2.8zM446.3 690.07h2.8v2.8h-2.8zM448.57 691h2.8v2.8h-2.8zM450.84 691.91h2.8v2.8h-2.8zM453.11 692.82h2.8v2.8h-2.8zM455.37 693.71h2.8v2.8h-2.8zM457.64 694.59h2.8v2.8h-2.8zM459.91 695.46h2.8v2.8h-2.8zM462.18 696.31h2.8v2.8h-2.8zM464.45 697.15h2.8v2.8h-2.8zM466.71 697.98h2.8v2.8h-2.8zM468.98 698.8h2.8v2.8h-2.8zM471.25 699.61h2.8v2.8h-2.8zM473.52 700.41h2.8v2.8h-2.8zM475.79 701.19h2.8v2.8h-2.8zM478.05 701.97h2.8v2.8h-2.8zM480.32 702.73h2.8v2.8h-2.8z" fill="#000"/>
<path d="M214.58 800.06a1.6 1.6 0 1 0 3.2 0a1.6 1.6 0 1 0 -3.2 0zM216.82 799.75a1.6 1.6 0 1 0 3.2 0a1.6 1.6 0 1 0 -3.2 0zM219.06 798.89a1.6 1.6 0 1 0 3.2 0a1.6 1.6 0 1 0 -3.2 0zM221.3 797.22a1.6 1.6 0 1 0 3.2 0a1.6 1.6 0 1 0 -3.2 0zM223.54 794.54a1.6 1.6 0 1 0 3.2 0a1.6 1.6 0 1 0 -3.2 0zM225.79 790.69a1.6 1.6 0 1 0 3.2 0a1.6 1.6 0 1 0 -3.2 0zM228.03 785.56a1.6 1.6 0 1 0 3.2 0a1.6 1.6 0 1 0 -3.2 0zM230.27 779.12a1.6 1.6 0 1 0 3.2 0a1.6 1.6 0 1 0 -3.2 0zM232.51 771.39a1.6 1.6 0 1 0 3.2 0a1.6 1.6 0 1 0 -3.2 0zM234.75 762.44a1.6 1.6 0 1 0 3.2 0a1.6 1.6 0 1 0 -3.2 0zM236.99 752.41a1.6 1.6 0 1 0 3.2 0a1.6 1.6 0 1 0 -3.2 0zM239.23 741.47a1.6 1.6 0 1 0 3.2 0a1.6 1.6 0 1 0 -3.2 0zM241.47 729.84a1.6 1.6 0 1 0 3.2 0a1.6 1.6 0 1 0 -3.2 0zM243.71 717.73a1.6 1.6 0 1 0 3.2 0a1.6 1.6 0 1 0 -3.2 0zM245.96 705.39a1.6 1.6 0 1 0 3.2 0a1.6 1.6 0 1 0 -3.2 0zM248.2 693.06a1.6 1.6 0 1 0 3.2 0a1.6 1.6 0 1 0 -3.2 0zM250.44 680.98a1.6 1.6 0 1 0 3.2 0a1.6 1.6 0 1 0 -3.2 0zM252.68 669.34a1.6 1.6 0 1 0 3.2 0a1.6 1.6 0 1 0 -3.2 0zM254.92 658.34a1.6 1.6 0 1 0 3.2 0a1.6 1.6 0 1 0 -3.2 0zM257.16 648.14a1.6 1.6 0 1 0 3.2 0a1.6 1.6 0 1 0 -3.2 0zM259.4 638.85a1.6 1.6 0 1 0 3.2 0a1.6 1.6 0 1 0 -3.2 0zM261.64 630.56a1.6 1.6 0 1 0 3.2 0a1.6 1.6 0 1 0 -3.2 0zM263.89 623.34a1.6 1.6 0 1 0 3.2 0a1.6 1.6 0 1 0 -3.2 0zM266.13 617.21a1.6 1.6 0 1 0 3.2 0a1.6 1.6 0 1 0 -3.2 0zM268.37 612.16a1.6 1.6 0 1 0 3.2 0a1.6 1.6 0 1 0 -3.2 0zM270.61 608.16a1.6 1.6 0 1 0 3.2 0a1.6 1.6 0 1 0 -3.2 0zM272.85 605.18a1.6 1.6 0 1 0 3.2 0a1.6 1.6 0 1 0 -3.2 0zM275.09 603.14a1.6 1.6 0 1 0 3.2 0a1.6 1.6 0 1 0 -3.2 0zM277.33 601.98a1.6 1.6 0 1 0 3.2 0a1.6 1.6 0 1 0 -3.2 0zM279.57 601.6a1.6 1.6 0 1 0 3.2 0a1.6 1.6 0 1 0 -3.2 0zM281.81 601.93a1.6 1.6 0 1 0 3.2 0a1.6 1.6 0 1 0 -3.2 0zM284.06 602.88a1.6 1.6 0 1 0 3.2 0a1.6 1.6 0 1 0 -3.2 0zM286.3 604.35a1.6 1.6 0 1 0 3.2 0a1.6 1.6 0 1 0 -3.2 0zM288.54 606.28a1.6 1.6 0 1 0 3.2 0a1.6 1.6 0 1 0 -3.2 0zM290.78 608.57a1.6 1.6 0 1 0 3.2 0a1.6 1.6 0 1 0 -3.2 0zM293.02 611.17a1.6 1.6 0 1 0 3.2 0a1.6 1.6 0 1 0 -3.2 0zM295.26 614a1.6 1.6 0 1 0 3.2 0a1.6 1.6 0 1 0 -3.2 0zM297.5 617.01a1.6 1.6 0 1 0 3.2 0a1.6 1.6 0 1 0 -3.2 0zM299.74 620.15a1.6 1.6 0 1 0 3.2 0a1.6 1.6 0 1 0 -3.2 0zM301.98 623.38a1.6 1.6 0 1 0 3.2 0a1.6 1.6 0 1 0 -3.2 0zM304.23 626.65a1.6 1.6 0 1 0 3.2 0a1.6 1.6 0 1 0 -3.2 0zM306.47 629.94a1.6 1.6 0 1 0 3.2 0a1.6 1.6 0 1 0 -3.2 0zM308.71 633.22a1.6 1.6 0 1 0 3.2 0a1.6 1.6 0 1 0 -3.2 0zM310.95 636.47a1.6 1.6 0 1 0 3.2 0a1.6 1.6 0 1 0 -3.2 0zM313.19 639.68a1.6 1.6 0 1 0 3.2 0a1.6 1.6 0 1 0 -3.2 0zM315.43 642.83a1.6 1.6 0 1 0 3.2 0a1.6 1.6 0 1 0 -3.2 0zM317.67 645.91a1.6 1.6 0 1 0 3.2 0a1.6 1.6 0 1 0 -3.2 0zM319.91 648.91a1.6 1.6 0 1 0 3.2 0a1.6 1.6 0 1 0 -3.2 0zM322.15 651.84a1.6 1.6 0 1 0 3.2 0a1.6 1.6 0 1 0 -3.2 0zM324.4 654.68a1.6 1.6 0 1 0 3.2 0a1.6 1.6 0 1 0 -3.2 0zM326.64 657.43a1.6 1.6 0 1 0 3.2 0a1.6 1.6 0 1 0 -3.2 0zM328.88 660.1a1.6 1.6 0 1 0 3.2 0a1.6 1.6 0 1 0 -3.2 0zM331.12 662.69a1.6 1.6 0 1 0 3.2 0a1.6 1.6 0 1 0 -3.2 0zM333.36 665.19a1.6 1.6 0 1 0 3.2 0a1.6 1.6 0 1 0 -3.2 0zM335.6 667.62a1.6 1.6 0 1 0 3.2 0a1.6 1.6 0 1 0 -3.2 0zM337.84 669.96a1.6 1.6 0 1 0 3.2 0a1.6 1.6 0 1 0 -3.2 0zM340.08 672.23a1.6 1.6 0 1 0 3.2 0a1.6 1.6 0 1 0 -3.2 0zM342.33 674.42a1.6 1.6 0 1 0 3.2 0a1.6 1.6 0 1 0 -3.2 0zM344.57 676.54a1.6 1.6 0 1 0 3.2 0a1.6 1.6 0 1 0 -3.2 0zM346.81 678.6a1.6 1.6 0 1 0 3.2 0a1.6 1.6 0 1 0 -3.2 0zM349.05 680.59a1.6 1.6 0 1 0 3.2 0a1.6 1.6 0 1 0 -3.2 0zM351.29 682.51a1.6 1.6 0 1 0 3.2 0a1.6 1.6 0 1 0 -3.2 0zM353.53 684.38a1.6 1.6 0 1 0 3.2 0a1.6 1.6 0 1 0 -3.2 0zM355.77 686.19a1.6 1.6 0 1 0 3.2 0a1.6 1.6 0 1 0 -3.2 0zM358.01 687.94a1.6 1.6 0 1 0 3.2 0a1.6 1.6 0 1 0 -3.2 0zM360.25 689.64a1.6 1.6 0 1 0 3.2 0a1.6 1.6 0 1 0 -3.2 0zM362.5 691.29a1.6 1.6 0 1 0 3.2 0a1.6 1.6 0 1 0 -3.2 0zM364.74 692.89a1.6 1.6 0 1 0 3.2 0a1.6 1.6 0 1 0 -3.2 0zM366.98 694.44a1.6 1.6 0 1 0 3.2 0a1.6 1.6 0 1 0 -3.2 0zM369.22 695.96a1.6 1.6 0 1 0 3.2 0a1.6 1.6 0 1 0 -3.2 0zM371.46 697.42a1.6 1.6 0 1 0 3.2 0a1.6 1.6 0 1 0 -3.2 0zM373.7 698.85a1.6 1.6 0 1 0 3.2 0a1.6 1.6 0 1 0 -3.2 0zM375.94 700.24a1.6 1.6 0 1 0 3.2 0a1.6 1.6 0 1 0 -3.2 0zM378.18 701.59a1.6 1.6 0 1 0 3.2 0a1.6 1.6 0 1 0 -3.2 0zM380.42 702.9a1.6 1.6 0 1 0 3.2 0a1.6 1.6 0 1 0 -3.2 0zM382.67 704.18a1.6 1.6 0 1 0 3.2 0a1.6 1.6 0 1 0 -3.2 0zM384.91 705.43a1.6 1.6 0 1 0 3.2 0a1.6 1.6 0 1 0 -3.2 0zM387.15 706.65a1.6 1.6 0 1 0 3.2 0a1.6 1.6 0 1 0 -3.2 0zM389.39 707.83a1.6 1.6 0 1 0 3.2 0a1.6 1.6 0 1 0 -3.2 0zM391.63 708.98a1.6 1.6 0 1 0 3.2 0a1.6 1.6 0 1 0 -3.2 0zM393.87 710.11a1.6 1.6 0 1 0 3.2 0a1.6 1.6 0 1 0 -3.2 0zM396.11 711.21a1.6 1.6 0 1 0 3.2 0a1.6 1.6 0 1 0 -3.2 0zM398.35 712.28a1.6 1.6 0 1 0 3.2 0a1.6 1.6 0 1 0 -3.2 0zM400.59 713.33a1.6 1.6 0 1 0 3.2 0a1.6 1.6 0 1 0 -3.2 0zM402.84 714.35a1.6 1.6 0 1 0 3.2 0a1.6 1.6 0 1 0 -3.2 0zM405.08 715.35a1.6 1.6 0 1 0 3.2 0a1.6 1.6 0 1 0 -3.2 0zM407.32 716.32a1.6 1.6 0 1 0 3.2 0a1.6 1.6 0 1 0 -3.2 0zM409.56 717.27a1.6 1.6 0 1 0 3.2 0a1.6 1.6 0 1 0 -3.2 0zM411.8 718.21a1.6 1.6 0 1 0 3.2 0a1.6 1.6 0 1 0 -3.2 0zM414.04 719.12a1.6 1.6 0 1 0 3.2 0a1.6 1.6 0 1 0 -3.2 0zM416.28 720.01a1.6 1.6 0 1 0 3.2 0a1.6 1.6 0 1 0 -3.2 0zM418.52 720.88a1.6 1.6 0 1 0 3.2 0a1.6 1.6 0 1 0 -3.2 0zM420.76 721.73a1.6 1.6 0 1 0 3.2 0a1.6 1.6 0 1 0 -3.2 0zM423.01 722.57a1.6 1.6 0 1 0 3.2 0a1.6 1.6 0 1 0 -3.2 0zM425.25 723.38a1.6 1.6 0 1 0 3.2 0a1.6 1.6 0 1 0 -3.2 0zM427.49 724.18a1.6 1.6 0 1 0 3.2 0a1.6 1.6 0 1 0 -3.2 0zM429.73 724.97a1.6 1.6 0 1 0 3.2 0a1.6 1.6 0 1 0 -3.2 0zM431.97 725.73a1.6 1.6 0 1 0 3.2 0a1.6 1.6 0 1 0 -3.2 0zM434.21 726.48a1.6 1.6 0 1 0 3.2 0a1.6 1.6 0 1 0 -3.2 0zM436.45 727.22a1.6 1.6 0 1 0 3.2 0a1.6 1.6 0 1 0 -3.2 0zM438.69 727.94a1.6 1.6 0 1 0 3.2 0a1.6 1.6 0 1 0 -3.2 0zM440.94 728.65a1.6 1.6 0 1 0 3.2 0a1.6 1.6 0 1 0 -3.2 0zM443.18 729.34a1.6 1.6 0 1 0 3.2 0a1.6 1.6 0 1 0 -3.2 0zM445.42 730.03a1.6 1.6 0 1 0 3.2 0a1.6 1.6 0 1 0 -3.2 0zM447.66 730.69a1.6 1.6 0 1 0 3.2 0a1.6 1.6 0 1 0 -3.2 0zM449.9 731.35a1.6 1.6 0 1 0 3.2 0a1.6 1.6 0 1 0 -3.2 0zM452.14 731.99a1.6 1.6 0 1 0 3.2 0a1.6 1.6 0 1 0 -3.2 0zM454.38 732.62a1.6 1.6 0 1 0 3.2 0a1.6 1.6 0 1 0 -3.2 0zM456.62 733.24a1.6 1.6 0 1 0 3.2 0a1.6 1.6 0 1 0 -3.2 0zM458.86 733.85a1.6 1.6 0 1 0 3.2 0a1.6 1.6 0 1 0 -3.2 0zM461.11 734.45a1.6 1.6 0 1 0 3.2 0a1.6 1.6 0 1 0 -3.2 0zM463.35 735.03a1.6 1.6 0 1 0 3.2 0a1.6 1.6 0 1 0 -3.2 0zM465.59 735.61a1.6 1.6 0 1 0 3.2 0a1.6 1.6 0 1 0 -3.2 0zM467.83 736.18a1.6 1.6 0 1 0 3.2 0a1.6 1.6 0 1 0 -3.2 0zM470.07 736.73a1.6 1.6 0 1 0 3.2 0a1.6 1.6 0 1 0 -3.2 0zM472.31 737.28a1.6 1.6 0 1 0 3.2 0a1.6 1.6 0 1 0 -3.2 0zM474.55 737.82a1.6 1.6 0 1 0 3.2 0a1.6 1.6 0 1 0 -3.2 0zM476.79 738.34a1.6 1.6 0 1 0 3.2 0a1.6 1.6 0 1 0 -3.2 0zM479.03 738.86a1.6 1.6 0 1 0 3.2 0a1.6 1.6 0 1 0 -3.2 0z" fill="#f00"/>
<path d="M216.52 766.22l2 3.2h-4zM218.75 769.04l2 3.2h-4zM220.98 772.95l2 3.2h-4zM223.22 773.76l2 3.2h-4zM225.45 773.38l2 3.2h-4zM227.69 771.89l2 3.2h-4zM229.92 769.29l2 3.2h-4zM232.16 767.09l2 3.2h-4zM234.39 764.48l2 3.2h-4zM236.63 762.59l2 3.2h-4zM238.86 760.35l2 3.2h-4zM241.09 756.34l2 3.2h-4zM243.33 752.43l2 3.2h-4zM245.56 745.24l2 3.2h-4zM247.8 735.4l2 3.2h-4zM250.03 724.98l2 3.2h-4zM252.27 710.6l2 3.2h-4zM254.5 695.73l2 3.2h-4zM256.74 680.9l2 3.2h-4zM258.97 664.2l2 3.2h-4zM261.2 650.02l2 3.2h-4zM263.44 635.89l2 3.2h-4zM265.67 625.89l2 3.2h-4zM267.91 616.67l2 3.2h-4zM270.14 609.73l2 3.2h-4zM272.38 605.55l2 3.2h-4zM274.61 602.38l2 3.2h-4zM276.85 600.43l2 3.2h-4zM279.08 599.24l2 3.2h-4zM281.31 599.6l2 3.2h-4zM283.55 601.32l2 3.2h-4zM285.78 603.79l2 3.2h-4zM288.02 606.15l2 3.2h-4zM290.25 608.38l2 3.2h-4zM292.49 610.63l2 3.2h-4zM294.72 612.88l2 3.2h-4zM296.96 615.1l2 3.2h-4zM299.19 617.32l2 3.2h-4zM301.42 619.59l2 3.2h-4zM303.66 622l2 3.2h-4zM305.89 624.53l2 3.2h-4zM308.13 626.99l2 3.2h-4zM310.36 629.22l2 3.2h-4zM312.6 631.3l2 3.2h-4zM314.83 633.26l2 3.2h-4zM317.06 635.06l2 3.2h-4zM319.3 636.76l2 3.2h-4zM321.53 638.33l2 3.2h-4zM323.77 639.75l2 3.2h-4zM326 641l2 3.2h-4zM328.24 642.13l2 3.2h-4zM330.47 643.22l2 3.2h-4zM332.71 644.34l2 3.2h-4zM334.94 645.46l2 3.2h-4zM337.17 646.55l2 3.2h-4zM339.41 647.62l2 3.2h-4zM341.64 648.7l2 3.2h-4zM343.88 649.73l2 3.2h-4zM346.11 650.67l2 3.2h-4zM348.35 651.48l2 3.2h-4zM350.58 652.24l2 3.2h-4zM352.82 653.01l2 3.2h-4zM355.05 653.85l2 3.2h-4zM357.28 654.71l2 3.2h-4zM359.52 655.56l2 3.2h-4zM361.75 656.37l2 3.2h-4zM363.99 657.14l2 3.2h-4zM366.22 657.92l2 3.2h-4zM368.46 658.75l2 3.2h-4zM370.69 659.62l2 3.2h-4zM372.93 660.54l2 3.2h-4zM375.16 661.51l2 3.2h-4zM377.39 662.64l2 3.2h-4zM379.63 663.85l2 3.2h-4zM381.86 664.99l2 3.2h-4zM384.1 665.94l2 3.2h-4zM386.33 666.79l2 3.2h-4zM388.57 667.57l2 3.2h-4zM390.8 668.3l2 3.2h-4zM393.04 668.98l2 3.2h-4zM395.27 669.64l2 3.2h-4zM397.5 670.26l2 3.2h-4zM399.74 670.84l2 3.2h-4zM401.97 671.38l2 3.2h-4zM404.21 671.88l2 3.2h-4zM406.44 672.39l2 3.2h-4zM408.68 672.93l2 3.2h-4zM410.91 673.51l2 3.2h-4zM413.15 674.16l2 3.2h-4zM415.38 674.87l2 3.2h-4zM417.61 675.62l2 3.2h-4zM419.85 676.36l2 3.2h-4zM422.08 677.09l2 3.2h-4zM424.32 677.76l2 3.2h-4zM426.55 678.36l2 3.2h-4zM428.79 678.92l2 3.2h-4zM431.02 679.46l2 3.2h-4zM433.26 679.99l2 3.2h-4zM435.49 680.51l2 3.2h-4zM437.72 681.03l2 3.2h-4zM439.96 681.58l2 3.2h-4zM442.19 682.15l2 3.2h-4zM444.43 682.73l2 3.2h-4zM446.66 683.3l2 3.2h-4zM448.9 683.85l2 3.2h-4zM451.13 684.35l2 3.2h-4zM453.37 684.79l2 3.2h-4zM455.6 685.2l2 3.2h-4zM457.83 685.58l2 3.2h-4zM460.07 685.94l2 3.2h-4zM462.3 686.28l2 3.2h-4zM464.54 686.59l2 3.2h-4zM466.77 686.87l2 3.2h-4zM469.01 687.13l2 3.2h-4zM471.24 687.39l2 3.2h-4zM473.48 687.63l2 3.2h-4zM475.71 687.85l2 3.2h-4zM477.94 688.06l2 3.2h-4zM480.18 688.24l2 3.2h-4zM482.41 688.4l2 3.2h-4z" fill="#00f"/>
<path d="M214.1 801V581.75M213.2 800.1H483.4" stroke="#000" stroke-width="1.8" fill="none"/>
<path d="M214.1 800.1H209.4M214.1 780.25H211.2M214.1 760.4H209.4M214.1 740.55H211.2M214.1 720.7H209.4M214.1 700.85H211.2M214.1 681H209.4M214.1 661.15H211.2M214.1 641.3H209.4M214.1 621.45H211.2M214.1 601.6H209.4M214.1 581.75H211.2M214.1 800.1V804.8M230.88 800.1V803M247.65 800.1V804.8M264.43 800.1V803M281.2 800.1V804.8M297.98 800.1V803M314.75 800.1V804.8M331.52 800.1V803M348.3 800.1V804.8M365.07 800.1V803M381.85 800.1V804.8M398.62 800.1V803M415.4 800.1V804.8M432.17 800.1V803M448.95 800.1V804.8M465.72 800.1V803M482.5 800.1V804.8" stroke="#000" stroke-width="1.6" fill="none"/>
<g font-size="12.2" fill="#000">
<text transform="translate(208.1 803.4) scale(0.93 1)" text-anchor="end">0.0</text>
<text transform="translate(208.1 763.7) scale(0.93 1)" text-anchor="end">0.2</text>
<text transform="translate(208.1 724) scale(0.93 1)" text-anchor="end">0.4</text>
<text transform="translate(208.1 684.3) scale(0.93 1)" text-anchor="end">0.6</text>
<text transform="translate(208.1 644.6) scale(0.93 1)" text-anchor="end">0.8</text>
<text transform="translate(208.1 604.9) scale(0.93 1)" text-anchor="end">1.0</text>
<text transform="translate(214.4 815.7) scale(0.93 1)" text-anchor="middle">0.0</text>
<text transform="translate(247.95 815.7) scale(0.93 1)" text-anchor="middle">0.5</text>
<text transform="translate(281.5 815.7) scale(0.93 1)" text-anchor="middle">1.0</text>
<text transform="translate(315.05 815.7) scale(0.93 1)" text-anchor="middle">1.5</text>
<text transform="translate(348.6 815.7) scale(0.93 1)" text-anchor="middle">2.0</text>
<text transform="translate(382.15 815.7) scale(0.93 1)" text-anchor="middle">2.5</text>
<text transform="translate(415.7 815.7) scale(0.93 1)" text-anchor="middle">3.0</text>
<text transform="translate(449.25 815.7) scale(0.93 1)" text-anchor="middle">3.5</text>
<text transform="translate(482.8 815.7) scale(0.93 1)" text-anchor="middle">4.0</text>
</g>
<rect x="263.7" y="752.1" width="92.5" height="38.7" fill="#fff" stroke="#444" stroke-width="1.3"/>
<path d="M280.1 759.7h2.8v2.8h-2.8z" fill="#000"/>
<path d="M279.9 772.6a1.6 1.6 0 1 0 3.2 0a1.6 1.6 0 1 0 -3.2 0z" fill="#f00"/>
<path d="M281.5 781.77l1.8 2.88h-3.6z" fill="#00f"/>
<text x="294.8" y="764.6" font-size="10.5" textLength="56.1" lengthAdjust="spacingAndGlyphs">Instantaneous</text>
<text x="294.8" y="775.9" font-size="10.5" textLength="47" lengthAdjust="spacingAndGlyphs">Progressive</text>
<text x="294.8" y="786.9" font-size="10.5" textLength="23.9" lengthAdjust="spacingAndGlyphs">-1.2 V</text>
<text transform="translate(179.3 697.5) rotate(-90)" text-anchor="middle" font-size="14" textLength="43" lengthAdjust="spacingAndGlyphs">(I<tspan dy="-6">2</tspan><tspan dy="6">/I</tspan><tspan dy="-6">2</tspan><tspan dy="6">m</tspan>)</text>
<text x="337.7" y="835.9" font-size="14.2" textLength="21.6" lengthAdjust="spacingAndGlyphs">t/t<tspan dy="4.2">m</tspan></text>
</svg></body></html>
